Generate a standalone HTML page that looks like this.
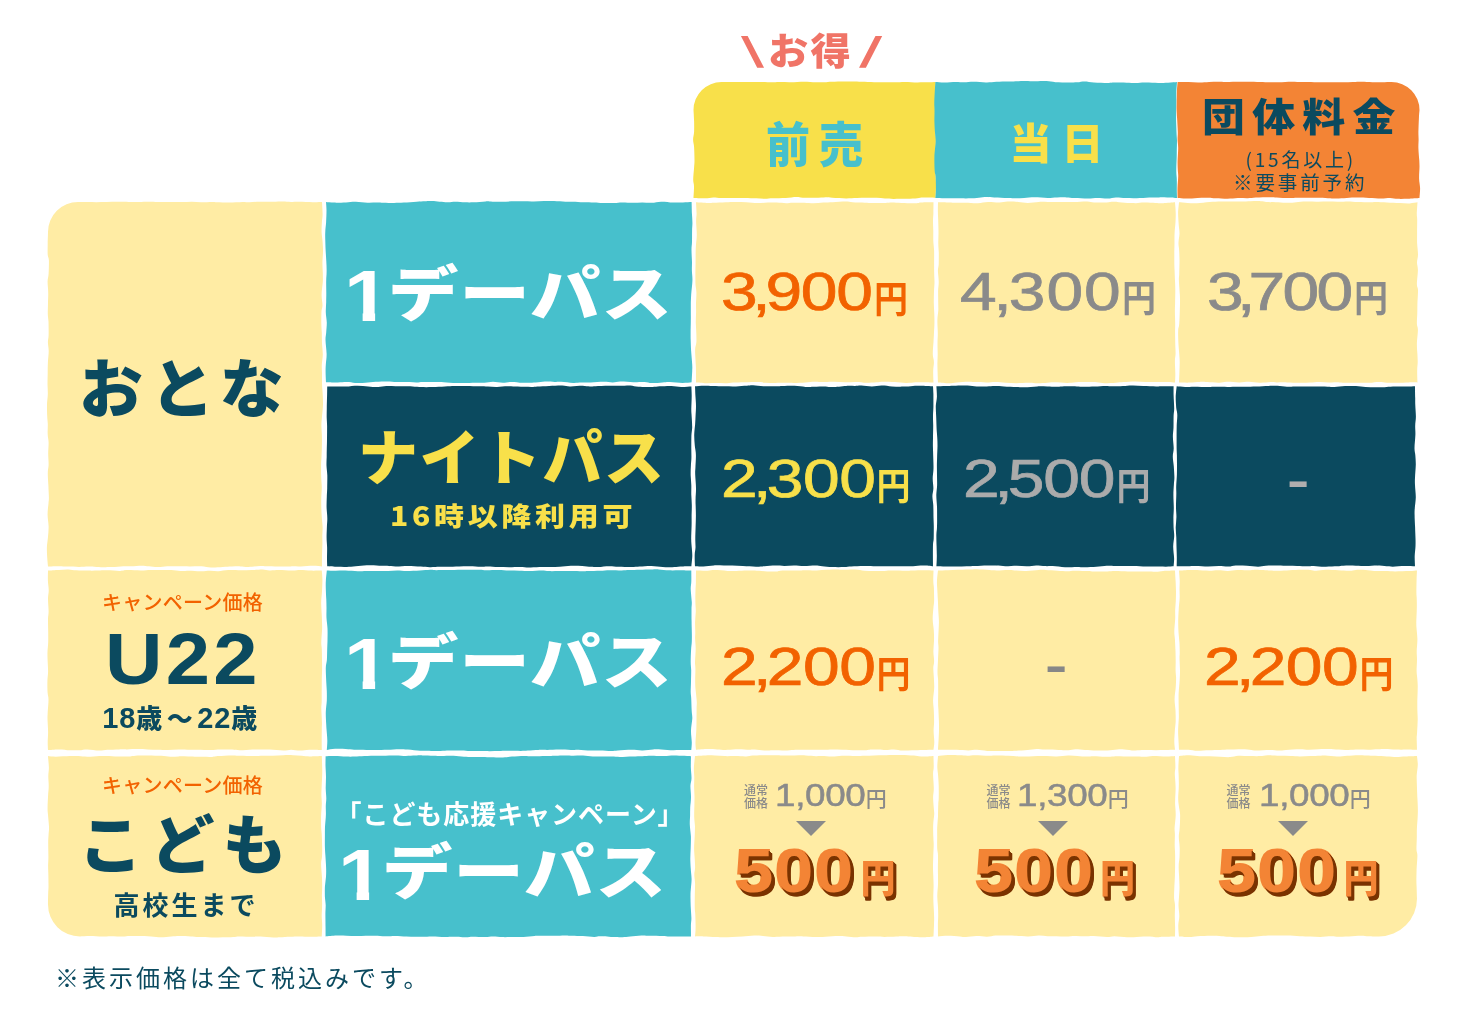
<!DOCTYPE html>
<html lang="ja">
<head>
<meta charset="utf-8">
<title>料金表</title>
<style>
html,body{margin:0;padding:0;background:#fff;}
body{width:1473px;height:1027px;position:relative;overflow:hidden;
  font-family:"Liberation Sans","Noto Sans CJK JP",sans-serif;}
#wrap{position:absolute;left:0;top:0;width:1473px;height:1027px;will-change:transform;}
.c{position:absolute;}
.py{background:#ffeca4;}
.tl{background:#47c0cc;}
.nv{background:#0b4a5f;}
.hy{background:#f8e04a;}
.ho{background:#f38435;}
.t{position:absolute;white-space:nowrap;line-height:1;margin:0;}
.jp{font-family:"Noto Sans CJK JP","Liberation Sans",sans-serif;}
.navy{color:#0b4a5f;}
.org{color:#f26200;}
.gry{color:#8a8a8a;}
.lgry{color:#ababab;}
.yel{color:#f8e04a;}
.wht{color:#fff;}
.num{display:inline-block;font-family:"Liberation Sans",sans-serif;transform-origin:0 50%;transform:scaleX(1.21);margin-right:0.52em;-webkit-text-stroke:0.7px currentColor;paint-order:stroke fill;letter-spacing:-1.0px;}
.cm{margin:0 -3.4px;}
.yen{display:inline-block;font-family:"Noto Sans CJK JP",sans-serif;font-weight:700;transform:scaleY(1.09);transform-origin:50% 100%;position:relative;top:2.5px;}

.num2{display:inline-block;font-family:"Liberation Sans",sans-serif;transform-origin:0 50%;transform:scaleX(1.17);margin-right:0.43em;letter-spacing:-0.3px;-webkit-text-stroke:0.5px currentColor;paint-order:stroke fill;}
.big{color:#f38435;text-shadow:1px 1px 0 #7a3300,2px 2px 0 #7a3300,3px 3px 0 #7a3300,3px 4px 0 #7a3300,2px 4px 0 #7a3300;}
.n5{display:inline-block;font-family:"Liberation Sans",sans-serif;font-weight:700;font-size:61px;transform:scaleX(1.13);transform-origin:0 50%;margin-right:0.315em;-webkit-text-stroke:2.2px #f38435;paint-order:stroke fill;letter-spacing:1.5px;}
.y5{display:inline-block;font-family:"Noto Sans CJK JP",sans-serif;font-weight:900;font-size:35px;transform:scaleY(1.1);transform-origin:50% 100%;position:relative;top:-0.3px;}
.yen2{font-family:"Noto Sans CJK JP",sans-serif;font-weight:500;font-size:21px;}
.one{display:inline-block;font-family:"Liberation Sans",sans-serif;font-weight:700;font-size:73px;margin-right:3.4px;position:relative;top:3.3px;transform:scaleX(1.13);transform-origin:0 50%;clip-path:polygon(0 0,27.6px 0,27.6px 100%,16.5px 100%,16.5px 40px,0 40px);}
.kata{display:inline-block;transform:scale(1.1,0.945);transform-origin:0 50%;letter-spacing:0.9px;}
.d{font-family:"Liberation Sans",sans-serif;font-weight:700;font-size:29px;letter-spacing:0.9px;}
</style>
</head>
<body>
<div id="wrap">

<!-- CELLS -->
<svg class="cells" width="1473" height="1027" viewBox="0 0 1473 1027" style="position:absolute;left:0;top:0">
<path fill="#f8e04a" d="M721.5 82.0C723.2 82.0 727.7 82.0 731.5 82.0C735.2 82.0 740.6 82.0 744.1 82.0C747.5 82.0 749.4 82.1 752.1 82.1C754.9 82.1 757.2 82.0 760.7 82.0C764.2 82.1 769.8 82.3 773.1 82.3C776.5 82.2 777.7 82.0 780.6 82.0C783.5 82.0 786.9 82.3 790.8 82.2C794.7 82.2 799.9 81.7 804.0 81.7C808.2 81.7 812.4 82.2 815.7 82.3C819.1 82.3 821.5 82.3 824.2 82.2C826.9 82.1 828.6 81.8 831.9 81.7C835.2 81.6 840.6 81.5 844.0 81.5C847.4 81.5 849.5 81.5 852.5 81.6C855.4 81.6 858.2 81.7 861.8 81.8C865.4 81.9 870.3 82.1 874.1 82.2C877.9 82.2 881.3 82.2 884.7 82.2C888.2 82.2 891.5 82.3 894.8 82.2C898.2 82.2 901.0 81.9 904.8 81.9C908.6 81.9 914.0 82.3 917.7 82.4C921.5 82.4 924.2 82.4 927.1 82.3C930.1 82.3 934.2 82.1 935.6 82.0C935.7 83.5 935.9 87.7 936.0 90.8C936.2 93.8 936.5 96.7 936.5 100.3C936.5 103.9 936.2 108.6 936.2 112.3C936.1 116.0 936.2 119.0 936.0 122.3C935.9 125.7 935.3 130.0 935.2 132.5C935.2 135.1 935.8 134.4 935.9 137.6C936.0 140.8 935.8 147.6 935.8 151.6C935.8 155.7 935.9 159.1 935.8 161.7C935.8 164.2 935.5 163.9 935.5 166.9C935.5 170.0 935.8 176.8 935.9 180.0C936.0 183.2 936.1 183.3 936.0 186.3C936.0 189.3 935.7 196.1 935.6 198.0C933.5 197.9 926.2 197.6 923.2 197.6C920.1 197.6 920.0 198.0 917.4 198.2C914.7 198.4 911.3 198.7 907.3 198.8C903.4 198.9 897.5 198.9 893.8 198.9C890.0 198.8 887.7 198.7 884.9 198.5C882.0 198.3 879.6 198.0 876.6 197.8C873.6 197.7 870.1 197.7 866.8 197.7C863.5 197.7 860.3 197.9 856.8 198.0C853.4 198.1 850.3 198.4 846.3 198.4C842.2 198.3 835.8 197.9 832.3 197.7C828.9 197.5 828.3 197.2 825.6 197.2C822.9 197.3 819.8 197.8 816.0 197.8C812.2 197.9 805.9 197.8 802.7 197.7C799.4 197.6 799.2 197.0 796.4 197.1C793.6 197.1 789.7 197.8 785.7 198.0C781.8 198.2 776.3 198.1 772.8 198.3C769.4 198.4 767.9 198.8 765.1 198.8C762.4 198.8 759.4 198.4 756.1 198.2C752.8 198.1 748.8 198.0 745.2 197.9C741.6 197.9 738.5 198.0 734.5 198.0C730.5 198.1 725.0 198.1 721.4 198.0C717.9 197.9 716.0 197.4 713.3 197.4C710.6 197.5 708.5 198.2 705.2 198.3C701.9 198.4 695.4 198.0 693.5 198.0C693.6 196.0 694.1 189.3 694.0 186.2C694.0 183.2 693.2 182.8 693.2 179.7C693.2 176.5 693.9 170.7 694.1 167.5C694.3 164.3 694.5 163.7 694.5 160.4C694.5 157.0 694.3 150.7 694.1 147.2C693.9 143.8 693.1 142.3 693.1 139.7C693.1 137.1 693.9 134.9 694.1 131.8C694.2 128.7 694.2 124.7 694.1 121.1C694.0 117.4 693.6 111.8 693.5 110.0A28 28 0 0 1 721.5 82.0Z"/>
<path fill="#47c0cc" d="M935.4 82.0C936.9 82.1 940.8 82.5 944.2 82.5C947.7 82.5 952.7 81.9 956.0 81.9C959.3 81.9 961.1 82.3 964.0 82.3C966.9 82.3 969.8 81.7 973.5 81.7C977.2 81.7 982.2 82.4 986.0 82.4C989.8 82.5 992.7 82.0 996.4 81.8C1000.0 81.7 1005.1 81.5 1008.0 81.5C1010.8 81.4 1010.5 81.5 1013.5 81.4C1016.5 81.3 1022.2 81.0 1025.7 81.0C1029.2 81.0 1031.0 81.3 1034.4 81.3C1037.9 81.4 1043.0 81.0 1046.5 81.1C1050.0 81.3 1051.8 82.0 1055.5 82.2C1059.2 82.4 1065.1 82.3 1068.7 82.4C1072.3 82.4 1074.6 82.5 1077.3 82.3C1079.9 82.1 1081.8 81.4 1084.6 81.4C1087.4 81.4 1090.2 82.1 1094.0 82.4C1097.9 82.6 1104.2 82.9 1107.5 82.9C1110.9 83.0 1111.0 82.7 1114.2 82.6C1117.4 82.6 1123.0 82.6 1126.6 82.7C1130.2 82.7 1132.8 83.1 1135.8 83.1C1138.8 83.1 1141.0 82.6 1144.7 82.6C1148.4 82.5 1154.1 82.9 1158.1 82.9C1162.0 82.9 1165.0 82.9 1168.1 82.7C1171.3 82.6 1175.5 82.1 1177.0 82.0C1176.9 83.8 1176.4 90.0 1176.3 93.1C1176.2 96.2 1176.4 97.3 1176.4 100.6C1176.4 103.9 1176.2 109.7 1176.1 112.9C1176.1 116.2 1176.1 117.1 1176.1 120.3C1176.2 123.5 1176.4 128.7 1176.5 132.1C1176.6 135.5 1176.9 137.6 1177.0 140.6C1177.0 143.6 1176.9 147.3 1176.8 150.1C1176.8 152.8 1176.8 153.8 1176.7 157.3C1176.6 160.9 1176.2 167.6 1176.3 171.4C1176.3 175.1 1176.8 176.8 1176.8 179.8C1176.9 182.8 1176.8 186.4 1176.8 189.5C1176.8 192.5 1177.0 196.6 1177.0 198.0C1175.4 197.9 1170.2 197.6 1167.2 197.5C1164.2 197.4 1162.0 197.3 1159.0 197.4C1156.0 197.4 1152.9 197.4 1149.2 197.5C1145.5 197.7 1140.7 198.1 1136.8 198.2C1132.9 198.3 1129.1 198.2 1125.7 198.1C1122.2 198.0 1119.0 197.3 1116.0 197.4C1113.0 197.4 1110.9 198.4 1107.8 198.5C1104.7 198.6 1100.8 197.9 1097.5 197.9C1094.2 197.9 1091.8 198.5 1087.9 198.5C1084.0 198.5 1077.8 198.2 1074.3 198.0C1070.7 197.8 1069.4 197.4 1066.6 197.4C1063.7 197.3 1060.2 197.4 1057.1 197.4C1053.9 197.5 1051.4 197.9 1047.7 197.9C1043.9 197.8 1038.5 197.3 1034.5 197.3C1030.6 197.3 1027.3 197.7 1024.1 197.9C1020.9 198.0 1018.2 198.2 1015.5 198.2C1012.8 198.3 1011.3 198.2 1007.7 198.1C1004.1 198.0 997.9 197.7 994.1 197.5C990.3 197.3 987.6 196.9 984.7 197.1C981.8 197.2 979.9 197.9 976.8 198.1C973.7 198.3 969.2 198.4 965.8 198.4C962.5 198.4 960.5 198.4 957.0 198.3C953.5 198.3 948.4 198.2 944.8 198.2C941.2 198.1 937.0 198.0 935.4 198.0C935.5 196.5 935.9 192.8 935.9 189.2C936.0 185.6 935.8 179.4 935.6 176.3C935.4 173.3 934.9 174.2 934.7 171.1C934.5 167.9 934.3 161.3 934.4 157.5C934.4 153.8 934.8 151.4 935.0 148.7C935.3 145.9 935.7 143.6 935.7 140.9C935.7 138.3 935.2 136.0 935.0 132.7C934.7 129.3 934.5 124.8 934.4 120.9C934.4 117.0 934.6 112.4 934.5 109.4C934.5 106.4 934.2 106.1 934.3 103.1C934.3 100.0 934.6 94.6 934.8 91.0C935.0 87.5 935.3 83.5 935.4 82.0Z"/>
<path fill="#f38435" d="M1177.6 82.0C1179.4 82.0 1184.8 82.1 1188.4 82.1C1192.1 82.2 1196.1 82.5 1199.5 82.4C1203.0 82.4 1206.0 82.1 1209.1 81.9C1212.2 81.8 1215.4 81.7 1218.2 81.7C1221.0 81.7 1222.4 81.9 1226.0 81.9C1229.6 81.8 1236.2 81.7 1239.8 81.7C1243.4 81.7 1244.4 81.7 1247.7 81.7C1251.1 81.8 1256.4 81.8 1260.1 81.9C1263.8 82.0 1266.7 82.1 1269.9 82.2C1273.0 82.2 1275.3 82.4 1278.9 82.3C1282.6 82.2 1287.9 81.8 1291.7 81.8C1295.6 81.8 1299.3 82.1 1302.0 82.1C1304.8 82.1 1305.0 82.0 1308.1 82.0C1311.3 82.0 1317.2 82.3 1320.8 82.3C1324.4 82.4 1326.1 82.2 1329.8 82.2C1333.4 82.2 1338.6 82.3 1342.5 82.3C1346.4 82.3 1349.8 82.2 1353.0 82.1C1356.2 82.0 1358.5 81.8 1361.7 81.8C1364.9 81.8 1368.9 82.1 1372.3 82.2C1375.6 82.2 1378.8 82.3 1382.0 82.3C1385.2 82.2 1389.9 82.0 1391.5 82.0A28 28 0 0 1 1419.5 110.0C1419.4 111.4 1419.0 114.7 1418.9 118.4C1418.7 122.0 1418.5 128.4 1418.4 131.9C1418.4 135.4 1418.6 136.8 1418.6 139.5C1418.6 142.2 1418.3 144.7 1418.4 148.2C1418.5 151.8 1419.1 157.6 1419.3 160.6C1419.4 163.7 1419.5 163.6 1419.5 166.6C1419.5 169.6 1419.0 175.1 1419.1 178.7C1419.2 182.3 1420.0 184.9 1420.1 188.2C1420.1 191.4 1419.6 196.4 1419.5 198.0C1417.6 198.1 1411.5 198.6 1407.9 198.7C1404.3 198.8 1400.8 199.0 1397.8 198.8C1394.9 198.7 1392.9 198.0 1390.1 197.9C1387.3 197.9 1384.5 198.5 1381.0 198.5C1377.5 198.5 1373.0 198.0 1369.0 197.9C1365.1 197.7 1361.0 197.6 1357.3 197.6C1353.6 197.6 1350.2 197.7 1346.7 197.9C1343.2 198.0 1339.4 198.5 1336.6 198.6C1333.9 198.7 1333.0 198.4 1330.2 198.2C1327.4 198.1 1323.5 197.8 1319.8 197.7C1316.1 197.7 1311.8 197.8 1307.9 197.8C1304.1 197.9 1299.9 197.8 1296.8 197.8C1293.7 197.9 1292.8 198.2 1289.4 198.1C1286.1 198.0 1279.9 197.6 1276.7 197.4C1273.4 197.3 1273.2 197.1 1269.8 197.2C1266.3 197.2 1259.5 197.4 1255.9 197.6C1252.2 197.8 1250.8 198.2 1247.8 198.3C1244.8 198.4 1241.3 198.0 1237.9 198.1C1234.5 198.2 1231.2 198.8 1227.5 198.8C1223.7 198.8 1218.7 198.5 1215.6 198.3C1212.4 198.1 1211.4 197.8 1208.3 197.7C1205.3 197.6 1201.0 197.7 1197.4 197.9C1193.8 198.0 1190.0 198.6 1186.7 198.6C1183.4 198.7 1179.1 198.1 1177.6 198.0C1177.6 196.4 1177.4 191.7 1177.5 188.1C1177.6 184.6 1178.2 179.5 1178.2 176.5C1178.3 173.5 1177.9 172.7 1177.8 170.1C1177.7 167.6 1177.5 164.8 1177.6 161.1C1177.7 157.5 1178.2 151.6 1178.2 148.1C1178.2 144.6 1177.7 142.8 1177.6 140.1C1177.5 137.4 1177.9 135.4 1177.8 131.8C1177.7 128.2 1177.3 122.3 1177.1 118.6C1176.9 114.9 1176.7 112.3 1176.6 109.7C1176.5 107.0 1176.7 106.0 1176.7 102.8C1176.8 99.7 1176.8 94.2 1176.9 90.8C1177.1 87.3 1177.5 83.5 1177.6 82.0Z"/>
<path fill="#ffeca4" d="M78.0 202.0C79.6 202.0 84.4 202.1 87.4 202.1C90.5 202.1 93.1 202.2 96.3 202.2C99.5 202.2 103.1 202.2 106.6 202.1C110.1 202.0 113.7 201.8 117.4 201.8C121.1 201.8 125.5 201.9 129.0 201.9C132.5 201.9 135.0 201.9 138.4 201.9C141.8 201.8 146.1 201.7 149.3 201.7C152.6 201.7 154.3 201.9 157.8 202.0C161.3 202.0 166.3 202.0 170.2 202.0C174.1 202.0 177.9 202.1 181.5 202.1C185.0 202.1 188.4 201.8 191.6 201.8C194.9 201.8 197.8 202.2 201.2 202.2C204.7 202.2 209.2 201.9 212.2 201.9C215.2 202.0 216.6 202.2 219.4 202.3C222.2 202.4 225.2 202.6 229.1 202.5C232.9 202.5 239.2 202.0 242.6 201.9C246.0 201.9 246.7 202.2 249.5 202.2C252.4 202.1 255.9 201.8 259.8 201.7C263.7 201.7 269.0 201.8 272.9 201.8C276.7 201.8 279.8 201.6 282.8 201.6C285.8 201.6 288.3 202.0 291.0 202.0C293.7 202.0 295.6 201.7 299.2 201.8C302.8 201.8 309.0 202.2 312.8 202.2C316.6 202.3 320.5 202.0 322.0 202.0C322.1 204.1 322.6 211.1 322.6 214.5C322.6 217.9 322.0 219.3 321.9 222.3C321.7 225.3 321.5 229.3 321.6 232.4C321.8 235.5 322.3 237.9 322.5 240.9C322.7 244.0 323.0 247.0 323.0 250.6C323.0 254.3 322.5 259.2 322.4 263.0C322.4 266.8 322.7 270.2 322.8 273.2C322.8 276.3 323.0 277.8 322.8 281.4C322.6 285.0 321.6 290.8 321.6 294.8C321.5 298.8 322.5 302.7 322.5 305.4C322.4 308.1 321.7 308.2 321.5 311.2C321.3 314.1 321.3 319.7 321.3 323.3C321.4 326.9 321.6 329.3 321.8 332.7C321.9 336.2 321.8 340.2 322.0 343.8C322.2 347.4 322.8 350.9 322.8 354.4C322.7 357.9 321.9 362.0 321.8 365.0C321.7 368.0 321.9 369.1 322.0 372.5C322.0 375.9 322.0 382.1 322.1 385.5C322.2 388.8 322.5 389.6 322.6 392.8C322.8 396.0 323.1 400.6 323.0 404.6C322.9 408.5 322.3 413.1 322.0 416.6C321.7 420.2 321.4 422.6 321.4 425.8C321.4 428.9 321.8 432.2 321.9 435.5C322.0 438.8 322.0 441.8 321.9 445.5C321.9 449.2 321.6 454.5 321.5 457.6C321.3 460.7 321.2 460.9 321.1 464.0C321.1 467.2 321.0 472.8 321.2 476.6C321.3 480.5 321.7 483.6 321.8 487.1C321.8 490.6 321.4 494.4 321.3 497.6C321.2 500.9 321.2 503.5 321.3 506.7C321.3 510.0 321.6 513.8 321.8 517.2C322.0 520.6 322.5 524.1 322.6 527.1C322.7 530.1 322.4 532.5 322.3 535.3C322.3 538.1 322.4 540.1 322.4 543.8C322.3 547.4 322.0 553.3 322.0 557.1C321.9 560.9 322.0 564.9 322.0 566.5C320.5 566.4 316.7 565.8 313.2 565.8C309.7 565.8 304.6 566.3 300.9 566.4C297.1 566.5 294.0 566.3 290.7 566.4C287.5 566.4 284.9 566.6 281.2 566.6C277.6 566.6 272.2 566.4 268.7 566.3C265.2 566.2 263.5 565.9 260.1 566.0C256.7 566.1 251.8 567.0 248.5 567.0C245.2 567.1 243.0 566.4 240.2 566.4C237.5 566.3 234.8 566.5 231.9 566.6C229.0 566.7 226.3 566.9 222.8 567.0C219.3 567.2 214.6 567.5 211.0 567.4C207.4 567.3 205.0 566.4 201.5 566.2C198.0 566.1 193.8 566.4 189.8 566.4C185.8 566.4 181.3 566.4 177.6 566.3C173.8 566.3 170.5 566.1 167.3 566.2C164.0 566.3 161.1 567.0 158.1 567.0C155.0 567.1 151.7 566.5 149.0 566.3C146.3 566.1 144.7 565.8 141.6 565.7C138.6 565.7 134.4 566.1 130.9 566.2C127.4 566.3 124.5 566.2 120.7 566.4C117.0 566.5 112.4 567.1 108.3 567.1C104.3 567.2 99.8 567.0 96.5 566.9C93.2 566.8 91.3 566.5 88.5 566.5C85.6 566.5 82.6 566.9 79.1 566.9C75.6 566.9 70.8 566.7 67.5 566.6C64.2 566.5 62.5 566.2 59.2 566.2C56.0 566.2 49.9 566.4 48.0 566.5C47.9 565.0 47.4 560.6 47.2 557.4C47.0 554.2 46.8 550.8 46.9 547.5C47.0 544.3 47.6 541.3 47.9 537.8C48.2 534.3 48.7 530.4 48.6 526.5C48.5 522.6 47.6 518.4 47.6 514.6C47.5 510.7 48.3 506.0 48.5 503.2C48.7 500.4 48.9 500.6 48.9 497.7C48.9 494.8 48.5 489.9 48.4 485.8C48.2 481.6 47.7 476.3 47.8 472.9C47.8 469.4 48.5 468.2 48.6 465.0C48.7 461.9 48.2 457.6 48.2 453.9C48.2 450.1 48.7 445.7 48.6 442.4C48.5 439.2 47.8 437.3 47.7 434.2C47.5 431.1 47.9 427.0 47.8 424.0C47.7 420.9 47.3 419.3 47.2 416.0C47.1 412.7 46.9 407.8 47.0 404.2C47.1 400.6 47.7 397.8 47.8 394.5C47.9 391.2 47.6 387.8 47.5 384.3C47.5 380.8 47.6 377.1 47.7 373.5C47.7 369.8 47.7 366.1 47.9 362.4C48.1 358.6 48.7 354.5 48.7 351.1C48.7 347.8 47.9 344.9 47.9 342.3C47.9 339.7 48.5 338.7 48.6 335.3C48.7 331.9 48.6 325.4 48.5 321.8C48.3 318.2 47.9 317.1 47.8 313.8C47.8 310.5 48.0 305.6 48.0 302.0C48.1 298.4 48.3 295.8 48.2 292.4C48.2 288.9 47.5 284.5 47.6 281.4C47.7 278.3 48.4 277.3 48.6 273.8C48.8 270.3 49.0 263.5 48.9 260.3C48.7 257.1 47.9 257.4 47.7 254.6C47.5 251.8 47.7 247.1 47.7 243.3C47.8 239.5 48.0 233.9 48.0 232.0A30 30 0 0 1 78.0 202.0Z"/>
<path fill="#ffeca4" d="M48.0 570.5C49.8 570.4 55.4 570.0 58.8 569.9C62.2 569.7 65.6 569.4 68.5 569.5C71.4 569.6 72.9 570.2 76.3 570.3C79.7 570.5 85.2 570.6 88.8 570.6C92.4 570.7 95.0 570.6 98.1 570.5C101.2 570.5 103.7 570.2 107.4 570.3C111.1 570.3 117.0 571.0 120.2 570.9C123.5 570.9 123.5 570.2 127.0 570.1C130.4 570.0 136.9 570.5 140.8 570.5C144.8 570.5 147.7 570.1 150.8 570.0C153.8 569.9 155.7 569.9 159.2 569.9C162.6 569.9 167.7 569.8 171.3 570.0C174.8 570.2 177.6 570.9 180.6 571.1C183.6 571.2 185.6 570.8 189.1 570.8C192.5 570.9 197.9 571.4 201.4 571.3C204.8 571.3 207.1 570.7 209.9 570.7C212.7 570.6 215.3 571.3 218.3 571.2C221.4 571.1 224.6 570.3 228.4 570.1C232.2 570.0 237.1 570.3 241.0 570.3C244.9 570.3 248.2 570.2 251.8 570.1C255.3 570.0 259.4 569.6 262.4 569.6C265.3 569.7 266.8 570.3 269.6 570.4C272.4 570.5 275.3 570.1 279.1 570.1C282.9 570.2 289.0 570.7 292.5 570.6C296.1 570.6 297.3 570.0 300.4 570.0C303.5 570.0 307.4 570.5 310.9 570.6C314.5 570.7 320.0 570.5 321.8 570.5C321.9 572.1 322.4 576.3 322.4 579.8C322.4 583.3 322.2 587.7 322.0 591.5C321.8 595.3 321.2 599.0 321.2 602.5C321.1 606.0 321.5 609.2 321.6 612.5C321.8 615.7 322.0 619.0 322.0 621.9C322.1 624.7 322.2 626.0 322.1 629.4C321.9 632.9 321.3 639.2 321.3 642.5C321.2 645.7 321.7 646.2 321.8 649.0C321.9 651.9 322.0 656.1 322.0 659.6C322.1 663.0 322.1 666.5 322.1 669.7C322.0 672.9 321.9 675.0 321.8 678.7C321.8 682.3 321.8 687.8 321.7 691.6C321.7 695.5 321.7 699.0 321.7 701.8C321.6 704.6 321.3 705.1 321.3 708.5C321.4 711.9 321.9 718.8 321.9 722.0C322.0 725.2 321.9 724.6 321.8 727.7C321.8 730.7 321.7 736.5 321.7 740.2C321.7 744.0 321.8 748.4 321.8 750.0C319.7 750.0 312.9 749.7 309.3 749.8C305.7 749.9 303.0 750.6 300.0 750.6C296.9 750.6 293.9 749.8 291.1 749.8C288.4 749.8 286.9 750.6 283.3 750.6C279.8 750.6 273.3 749.8 269.9 749.6C266.5 749.5 265.9 749.6 263.1 749.6C260.2 749.6 256.5 749.3 252.6 749.4C248.8 749.5 243.4 750.1 239.9 750.2C236.5 750.2 235.2 749.8 232.0 749.6C228.7 749.5 223.8 749.4 220.3 749.4C216.8 749.5 214.5 749.9 210.8 750.0C207.0 750.0 201.2 749.8 197.7 749.7C194.3 749.7 193.2 749.8 190.0 749.8C186.8 749.8 182.4 749.6 178.7 749.6C175.0 749.6 171.1 749.9 167.6 750.0C164.1 750.0 161.2 749.8 157.9 749.7C154.6 749.6 151.0 749.5 147.6 749.4C144.2 749.3 141.0 749.1 137.6 749.1C134.1 749.1 129.9 749.3 126.8 749.4C123.7 749.4 122.1 749.3 118.9 749.4C115.6 749.5 110.6 749.7 107.3 749.8C104.0 750.0 102.4 750.6 99.1 750.5C95.8 750.4 90.7 749.5 87.3 749.4C84.0 749.4 82.0 750.1 79.1 750.3C76.1 750.4 73.1 750.4 69.8 750.2C66.5 750.1 62.8 749.4 59.2 749.4C55.6 749.3 49.9 749.9 48.0 750.0C47.9 748.7 47.7 745.2 47.7 742.2C47.7 739.2 48.1 735.9 48.1 732.0C48.1 728.1 47.6 722.0 47.5 718.7C47.5 715.4 47.6 715.5 47.7 712.3C47.9 709.1 48.5 703.0 48.5 699.7C48.5 696.4 47.8 695.5 47.6 692.5C47.4 689.5 47.3 685.3 47.4 681.8C47.4 678.3 48.0 675.2 48.1 671.5C48.1 667.9 47.7 663.1 47.6 659.8C47.5 656.5 47.4 654.8 47.5 651.8C47.6 648.9 48.1 645.4 48.2 641.9C48.3 638.5 48.2 635.1 48.2 631.3C48.1 627.4 48.0 622.1 48.0 618.8C48.1 615.5 48.6 615.0 48.6 611.6C48.6 608.2 48.0 601.9 48.0 598.4C48.1 594.8 48.8 593.2 48.7 590.2C48.7 587.2 48.0 583.8 47.9 580.6C47.8 577.3 48.0 572.2 48.0 570.5Z"/>
<path fill="#ffeca4" d="M48.0 756.0C49.3 756.1 52.2 756.7 55.9 756.7C59.5 756.7 66.0 756.2 69.8 756.1C73.6 756.0 75.6 756.0 78.6 756.1C81.5 756.2 83.9 756.8 87.4 756.8C90.9 756.8 96.3 756.1 99.5 756.0C102.7 755.8 103.2 755.9 106.4 755.9C109.5 756.0 114.4 756.4 118.3 756.4C122.3 756.5 127.0 756.5 130.2 756.4C133.4 756.2 134.5 755.8 137.5 755.6C140.6 755.5 144.5 755.4 148.5 755.4C152.5 755.5 157.8 755.6 161.4 755.8C165.1 756.0 167.5 756.6 170.4 756.7C173.3 756.8 175.7 756.4 178.6 756.4C181.6 756.3 185.0 756.5 188.2 756.6C191.4 756.7 193.6 756.7 197.6 756.8C201.6 756.8 208.6 757.0 212.0 756.9C215.5 756.7 215.0 756.3 218.3 756.0C221.5 755.8 227.9 755.4 231.6 755.4C235.3 755.3 237.0 755.6 240.6 755.7C244.2 755.8 249.4 756.0 253.1 756.0C256.8 756.0 259.5 755.7 262.8 755.7C266.0 755.6 269.1 755.8 272.6 755.7C276.0 755.6 279.9 755.3 283.4 755.2C286.8 755.1 290.0 755.1 293.0 755.2C296.1 755.3 298.9 755.5 301.7 755.7C304.6 755.9 306.6 756.3 309.9 756.4C313.3 756.4 319.8 756.1 321.8 756.0C321.9 757.5 322.0 762.1 322.1 765.1C322.2 768.1 322.3 770.5 322.2 773.9C322.2 777.4 321.8 782.3 321.7 785.9C321.5 789.5 321.4 792.4 321.4 795.4C321.5 798.4 321.9 800.7 321.8 804.2C321.7 807.6 321.2 812.0 321.1 816.0C321.0 819.9 321.1 824.9 321.2 827.8C321.3 830.8 321.6 830.5 321.7 833.8C321.9 837.0 322.1 843.5 322.2 847.3C322.2 851.1 322.2 853.8 322.0 856.6C321.9 859.4 321.1 860.3 321.1 863.9C321.1 867.4 321.8 874.0 322.0 877.8C322.1 881.7 322.2 884.0 322.2 886.9C322.2 889.9 321.9 892.7 321.9 895.8C321.9 898.8 322.2 902.0 322.1 905.4C322.1 908.8 321.7 912.6 321.7 915.9C321.7 919.2 322.2 921.8 322.2 925.3C322.2 928.7 321.9 934.6 321.8 936.5C319.9 936.5 314.3 936.8 310.6 936.8C306.8 936.8 302.8 936.5 299.4 936.5C296.1 936.5 293.7 936.7 290.4 936.8C287.2 936.9 282.7 937.2 279.9 937.3C277.0 937.4 276.5 937.6 273.2 937.5C270.0 937.4 263.8 936.7 260.5 936.6C257.1 936.5 256.4 936.7 252.9 936.7C249.4 936.7 242.8 936.4 239.5 936.4C236.2 936.5 236.0 936.8 233.2 936.9C230.4 937.1 226.4 937.2 222.8 937.3C219.2 937.4 215.4 937.6 211.4 937.5C207.4 937.5 202.2 937.3 198.8 937.1C195.3 936.9 194.0 936.7 190.8 936.5C187.5 936.3 182.7 936.0 179.4 936.0C176.2 936.0 174.3 936.3 171.2 936.5C168.2 936.8 164.4 937.3 161.0 937.3C157.7 937.3 154.9 936.7 151.0 936.5C147.2 936.3 141.6 936.1 138.0 936.1C134.4 936.0 132.1 936.0 129.6 936.1C127.0 936.2 125.8 936.6 122.7 936.6C119.6 936.6 114.5 936.3 111.0 936.3C107.6 936.3 105.6 936.6 102.1 936.6C98.6 936.6 93.7 936.1 90.0 936.1C86.3 936.1 81.7 936.4 80.0 936.5A32 32 0 0 1 48.0 904.5C48.0 902.6 48.1 896.0 48.2 893.0C48.3 890.0 48.5 889.8 48.5 886.4C48.5 883.0 48.4 876.3 48.3 872.8C48.2 869.3 48.1 868.3 48.1 865.6C48.2 863.0 48.4 860.6 48.4 856.8C48.4 853.0 48.2 846.5 48.2 842.7C48.2 838.9 48.5 836.8 48.6 834.1C48.8 831.5 49.1 830.0 49.0 826.8C48.9 823.6 48.2 818.0 48.0 814.8C47.7 811.6 47.5 810.8 47.6 807.6C47.6 804.3 47.9 798.7 48.1 795.2C48.3 791.7 48.7 789.7 48.7 786.5C48.8 783.4 48.3 779.6 48.3 776.5C48.3 773.4 48.9 771.2 48.9 767.8C48.8 764.3 48.1 758.0 48.0 756.0Z"/>
<path fill="#47c0cc" d="M326.0 202.0C327.3 202.1 330.8 202.6 334.1 202.6C337.4 202.7 342.3 202.5 346.0 202.4C349.6 202.2 352.3 201.7 355.9 201.8C359.5 201.8 364.0 202.6 367.5 202.7C371.1 202.8 374.3 202.5 377.0 202.5C379.6 202.5 380.6 202.7 383.4 202.7C386.3 202.8 390.7 203.0 394.1 203.0C397.5 202.9 400.0 202.8 403.8 202.6C407.5 202.3 413.0 202.0 416.6 201.7C420.1 201.5 422.4 201.3 425.0 201.2C427.7 201.1 428.7 200.9 432.4 201.1C436.0 201.3 443.2 202.2 447.0 202.3C450.8 202.4 452.2 201.8 455.2 201.8C458.3 201.8 462.1 202.2 465.2 202.3C468.2 202.4 470.2 202.4 473.6 202.3C477.0 202.1 482.5 201.5 485.6 201.4C488.7 201.2 489.7 201.6 492.5 201.7C495.2 201.7 498.5 201.7 502.1 201.7C505.7 201.6 510.5 201.4 514.1 201.3C517.7 201.3 520.4 201.3 523.7 201.3C527.0 201.3 530.4 201.5 533.8 201.4C537.2 201.4 540.7 201.1 544.1 201.0C547.5 200.9 550.6 200.9 554.1 201.0C557.7 201.1 562.3 201.6 565.4 201.7C568.5 201.8 569.9 201.6 572.9 201.7C575.9 201.8 580.0 202.1 583.5 202.2C587.1 202.3 590.9 202.3 594.1 202.5C597.2 202.6 599.2 202.9 602.6 203.0C606.0 203.1 611.0 203.1 614.2 203.0C617.5 202.9 618.9 202.4 622.0 202.4C625.1 202.3 629.2 202.8 632.6 202.8C636.0 202.8 639.1 202.4 642.3 202.4C645.5 202.4 648.6 203.0 651.7 202.8C654.9 202.7 657.5 201.7 661.1 201.7C664.6 201.6 669.3 202.4 673.0 202.5C676.6 202.6 679.8 202.5 682.9 202.4C686.0 202.3 690.1 202.1 691.6 202.0C691.7 203.9 691.8 209.9 691.9 213.3C692.1 216.7 692.4 219.7 692.4 222.5C692.5 225.3 692.1 226.9 692.1 230.2C692.0 233.4 692.1 238.8 692.0 242.1C691.9 245.4 691.5 246.5 691.5 249.8C691.5 253.2 691.9 258.7 692.0 262.2C692.0 265.8 691.8 268.1 691.9 271.1C692.0 274.2 692.6 277.0 692.4 280.8C692.3 284.7 691.5 290.5 691.2 294.2C691.0 297.9 690.9 300.1 690.8 303.0C690.8 305.9 690.8 308.8 690.8 311.8C690.8 314.8 690.9 317.3 690.8 320.8C690.8 324.3 690.6 329.3 690.6 332.6C690.6 335.8 690.6 337.3 690.7 340.2C690.8 343.2 690.9 346.3 691.1 350.4C691.4 354.4 692.0 361.1 692.2 364.5C692.4 368.0 692.3 368.0 692.2 371.0C692.1 374.0 691.7 380.4 691.6 382.3C690.1 382.4 686.2 383.0 682.6 383.0C679.0 383.0 673.2 382.2 669.9 382.1C666.5 382.0 665.5 382.3 662.5 382.4C659.4 382.6 654.6 383.2 651.7 383.1C648.7 383.0 647.6 382.2 644.5 382.0C641.4 381.9 637.3 382.3 633.3 382.2C629.2 382.1 623.7 381.4 620.3 381.5C616.9 381.5 615.5 382.4 612.7 382.4C609.9 382.4 607.3 381.7 603.7 381.7C600.0 381.7 594.6 382.3 590.8 382.5C587.1 382.7 584.2 382.5 581.2 382.6C578.3 382.7 576.5 383.1 573.2 383.0C569.8 382.8 564.3 382.0 561.3 381.8C558.2 381.6 557.5 381.9 554.7 381.9C552.0 381.8 548.1 381.4 544.9 381.5C541.7 381.6 539.5 382.4 535.7 382.6C532.0 382.8 526.5 382.8 522.5 382.7C518.5 382.6 515.0 381.9 511.8 381.9C508.5 381.9 505.9 382.7 502.8 382.7C499.7 382.7 496.1 381.8 493.0 381.8C489.9 381.8 487.3 382.6 484.4 382.7C481.5 382.9 479.1 382.8 475.6 382.8C472.1 382.9 466.6 383.0 463.3 383.0C460.0 383.1 459.3 383.2 456.0 383.0C452.8 382.9 447.2 382.3 443.8 382.2C440.3 382.0 438.8 382.0 435.3 382.0C431.8 382.0 426.1 381.9 422.9 382.0C419.7 382.1 419.6 382.5 416.3 382.5C412.9 382.5 406.3 382.2 402.9 382.1C399.6 382.0 398.9 382.1 396.3 382.0C393.7 381.9 390.7 381.4 387.3 381.4C383.9 381.4 379.4 381.6 375.7 381.8C372.0 382.1 368.8 382.7 365.4 382.8C361.9 383.0 358.2 383.0 355.2 382.9C352.1 382.8 349.9 382.1 347.0 382.1C344.1 382.0 341.4 382.5 337.9 382.5C334.4 382.6 328.0 382.3 326.0 382.3C325.9 380.4 325.6 374.2 325.6 371.0C325.6 367.8 325.7 366.2 325.9 363.4C326.1 360.5 326.7 357.8 326.6 353.8C326.5 349.9 325.6 343.4 325.5 339.8C325.5 336.2 326.0 335.2 326.2 332.4C326.4 329.6 326.8 326.1 326.8 322.8C326.7 319.4 325.9 315.7 325.8 312.2C325.7 308.7 326.1 305.1 326.2 301.9C326.2 298.7 326.3 296.4 326.3 292.9C326.3 289.3 326.1 284.2 326.2 280.7C326.2 277.3 326.6 275.3 326.6 272.1C326.7 268.8 326.5 264.9 326.3 261.2C326.1 257.5 325.8 253.2 325.6 249.8C325.5 246.4 325.4 243.7 325.3 240.7C325.2 237.6 325.1 234.6 325.3 231.5C325.4 228.5 325.9 225.8 326.1 222.3C326.3 218.8 326.5 214.0 326.5 210.6C326.5 207.2 326.1 203.4 326.0 202.0Z"/>
<path fill="#0b4a5f" d="M327.2 386.4C328.7 386.4 332.8 386.4 336.0 386.4C339.1 386.4 342.4 386.6 346.0 386.5C349.6 386.4 353.9 385.7 357.5 385.7C361.2 385.7 364.7 386.2 368.2 386.4C371.6 386.7 375.1 387.1 378.2 387.0C381.2 387.0 383.4 386.2 386.3 386.1C389.2 386.0 392.0 386.2 395.6 386.3C399.2 386.3 404.2 386.2 407.8 386.2C411.4 386.3 414.0 386.6 417.1 386.8C420.1 387.0 422.6 387.2 426.2 387.2C429.8 387.2 434.9 387.0 438.8 386.8C442.8 386.7 447.1 386.3 450.1 386.2C453.1 386.0 454.2 386.0 456.9 386.0C459.7 386.0 462.7 385.9 466.5 385.9C470.3 386.0 476.0 386.1 479.6 386.2C483.1 386.3 485.0 386.3 487.9 386.5C490.8 386.6 493.8 387.0 497.1 386.9C500.4 386.9 504.2 386.3 507.6 386.3C511.1 386.2 513.8 386.5 517.7 386.6C521.6 386.8 527.9 387.0 531.2 387.0C534.5 386.9 534.5 386.7 537.4 386.5C540.4 386.4 544.9 386.2 549.1 386.0C553.2 385.8 558.8 385.4 562.3 385.5C565.7 385.6 566.6 386.3 569.9 386.4C573.3 386.5 579.2 385.8 582.6 385.8C585.9 385.9 587.4 386.5 590.0 386.5C592.6 386.6 594.3 386.2 598.0 386.0C601.8 385.9 608.8 385.7 612.4 385.7C616.1 385.6 617.1 385.8 620.0 385.7C623.0 385.7 627.2 385.3 630.3 385.4C633.4 385.6 634.8 386.5 638.5 386.8C642.1 387.0 648.7 387.0 652.3 386.9C655.8 386.8 656.5 386.4 659.7 386.2C662.9 386.1 667.9 385.8 671.4 385.9C675.0 386.0 677.8 386.8 681.1 386.9C684.4 387.0 689.7 386.5 691.4 386.4C691.4 388.0 691.7 392.0 691.7 395.7C691.7 399.4 691.4 405.7 691.3 408.8C691.3 411.9 691.4 411.0 691.5 414.1C691.7 417.1 692.2 423.5 692.2 427.1C692.1 430.7 691.6 432.1 691.4 435.6C691.3 439.1 691.3 444.4 691.3 448.2C691.3 452.0 691.5 455.4 691.4 458.3C691.3 461.2 691.0 462.9 690.9 465.8C690.7 468.7 690.6 472.6 690.7 475.8C690.8 478.9 691.2 481.8 691.3 484.9C691.4 488.1 691.2 491.5 691.3 494.8C691.4 498.0 691.8 501.3 691.8 504.7C691.9 508.0 691.7 511.4 691.6 514.9C691.6 518.4 691.7 521.4 691.6 525.4C691.5 529.3 691.2 535.0 691.2 538.8C691.2 542.6 691.6 545.3 691.8 548.1C692.0 550.9 692.3 552.7 692.3 555.7C692.2 558.8 691.5 564.5 691.4 566.3C689.6 566.3 683.5 566.4 680.3 566.5C677.1 566.7 675.3 567.1 672.3 567.2C669.4 567.3 666.1 567.3 662.7 567.1C659.2 566.9 655.3 566.1 651.5 566.0C647.7 565.9 643.1 566.4 639.7 566.5C636.4 566.7 635.0 566.9 631.4 567.0C627.8 567.0 622.1 566.9 618.4 566.8C614.7 566.7 612.5 566.1 609.1 566.2C605.8 566.2 601.3 566.9 598.3 567.0C595.3 567.1 593.8 567.0 591.1 566.8C588.5 566.6 585.6 566.1 582.2 565.9C578.9 565.7 574.6 565.6 570.9 565.7C567.1 565.8 563.2 566.5 559.8 566.7C556.4 566.9 553.3 566.9 550.3 566.9C547.3 567.0 545.5 567.1 542.0 567.1C538.4 567.2 532.7 567.5 529.1 567.4C525.4 567.4 523.7 567.0 520.4 566.9C517.0 566.9 512.8 567.1 509.1 567.2C505.4 567.2 501.7 567.2 498.1 567.1C494.6 566.9 490.8 566.4 487.9 566.4C485.0 566.3 483.7 566.8 480.7 566.8C477.7 566.8 473.5 566.3 469.9 566.2C466.4 566.1 463.1 566.3 459.2 566.4C455.3 566.5 450.0 566.7 446.7 566.8C443.5 566.9 442.4 566.7 439.5 566.8C436.7 566.8 433.0 567.3 429.8 567.2C426.7 567.2 424.3 566.7 420.7 566.5C417.0 566.3 412.0 565.9 407.8 565.9C403.6 565.9 399.1 566.5 395.6 566.4C392.2 566.4 389.8 565.8 387.0 565.7C384.3 565.6 382.6 565.8 379.2 565.7C375.8 565.7 370.7 565.2 366.8 565.3C362.9 565.4 359.0 566.0 355.7 566.3C352.3 566.6 349.8 566.9 346.8 566.9C343.8 567.0 340.9 566.9 337.7 566.8C334.4 566.7 328.9 566.4 327.2 566.3C327.2 565.0 327.0 561.7 327.0 558.5C327.0 555.3 327.2 550.7 327.1 547.2C327.0 543.7 326.6 540.8 326.6 537.4C326.6 534.0 326.8 530.0 326.9 526.8C327.0 523.6 327.4 521.2 327.3 518.0C327.3 514.8 326.7 511.1 326.6 507.6C326.5 504.2 326.7 500.4 326.8 497.1C326.9 493.9 327.1 491.7 327.2 488.1C327.2 484.5 327.4 479.1 327.3 475.3C327.2 471.6 326.6 468.4 326.5 465.4C326.4 462.3 326.6 459.7 326.7 456.9C326.7 454.1 326.7 451.6 326.8 448.6C326.9 445.5 327.0 442.4 327.0 438.6C327.1 434.8 327.1 429.5 327.1 425.9C327.0 422.4 326.8 420.1 326.7 417.3C326.7 414.4 326.7 412.6 326.8 408.8C326.8 405.0 327.0 398.2 327.1 394.4C327.2 390.7 327.2 387.7 327.2 386.4Z"/>
<path fill="#47c0cc" d="M326.8 570.5C328.3 570.5 332.6 570.8 335.7 570.8C338.8 570.8 341.8 570.5 345.5 570.6C349.1 570.7 354.2 571.2 357.8 571.3C361.3 571.3 363.0 571.0 366.6 571.0C370.3 570.9 376.1 571.1 379.7 571.1C383.3 571.1 385.3 571.1 388.2 571.0C391.1 570.9 394.1 570.6 397.2 570.6C400.3 570.6 402.9 571.1 406.7 571.1C410.4 571.1 415.9 570.8 419.8 570.6C423.8 570.4 427.4 569.9 430.1 569.8C432.9 569.7 433.5 570.1 436.3 570.2C439.2 570.2 443.2 570.2 447.3 570.1C451.4 570.1 457.6 569.8 460.8 569.8C464.1 569.7 463.9 569.7 467.0 569.7C470.1 569.7 476.4 569.7 479.6 569.7C482.8 569.8 483.1 570.2 486.3 570.2C489.4 570.3 494.6 569.9 498.4 570.0C502.2 570.0 505.5 570.4 509.0 570.5C512.5 570.6 516.0 570.6 519.4 570.7C522.9 570.8 525.9 571.1 529.6 571.1C533.3 571.1 538.6 570.5 541.8 570.5C545.0 570.5 546.0 571.0 548.8 571.1C551.6 571.2 555.1 571.1 558.7 571.1C562.4 571.1 566.9 571.1 570.8 571.1C574.7 571.1 579.4 571.3 582.3 571.3C585.2 571.3 585.4 571.1 588.3 571.0C591.3 571.0 596.6 571.0 600.1 570.8C603.7 570.7 606.0 570.4 609.6 570.3C613.2 570.3 618.4 570.5 621.7 570.5C624.9 570.4 626.2 570.2 629.2 570.1C632.2 570.0 636.2 569.9 639.8 569.8C643.4 569.7 647.7 569.7 650.9 569.6C654.0 569.5 655.7 569.3 658.7 569.4C661.7 569.5 665.6 570.2 669.0 570.3C672.5 570.5 675.5 570.3 679.2 570.3C682.9 570.4 689.3 570.5 691.3 570.5C691.3 572.4 691.4 578.8 691.3 581.8C691.2 584.9 690.7 585.4 690.7 588.8C690.8 592.2 691.6 598.9 691.8 602.3C691.9 605.7 691.5 605.9 691.5 609.2C691.5 612.4 691.5 618.1 691.6 621.8C691.6 625.5 691.8 628.2 691.8 631.4C691.9 634.7 691.9 638.4 691.8 641.4C691.7 644.4 691.3 646.0 691.1 649.4C690.9 652.9 690.7 658.4 690.7 662.0C690.7 665.5 691.1 667.3 691.2 670.6C691.2 673.8 691.1 677.7 691.0 681.2C691.0 684.8 690.7 689.0 690.7 691.8C690.7 694.7 691.1 695.1 691.2 698.3C691.4 701.5 691.5 707.6 691.7 711.0C691.9 714.3 692.4 715.3 692.3 718.5C692.1 721.8 691.1 726.5 691.0 730.5C690.9 734.5 691.7 739.1 691.8 742.4C691.8 745.6 691.4 748.7 691.3 750.0C689.5 750.0 683.7 750.1 680.2 750.1C676.7 750.2 674.0 750.4 670.4 750.2C666.8 750.1 661.6 749.5 658.7 749.3C655.8 749.2 655.8 749.2 653.1 749.4C650.4 749.5 646.2 750.4 642.6 750.4C639.0 750.5 635.7 749.8 631.6 749.8C627.5 749.8 621.3 750.3 617.9 750.5C614.5 750.7 614.2 751.0 611.2 751.0C608.2 751.0 603.4 750.6 600.0 750.5C596.5 750.4 594.3 750.6 590.7 750.5C587.1 750.4 581.7 749.8 578.4 749.7C575.1 749.6 574.1 750.1 570.9 750.0C567.7 750.0 563.0 749.6 559.1 749.6C555.1 749.6 550.6 749.9 547.1 750.0C543.7 750.0 541.7 749.8 538.4 749.9C535.2 750.0 530.7 750.4 527.8 750.5C524.8 750.7 524.3 750.8 520.8 750.9C517.3 750.9 510.5 750.8 506.9 750.8C503.2 750.8 501.8 750.9 499.0 751.0C496.1 751.0 493.1 751.2 489.7 751.2C486.3 751.2 482.0 751.2 478.3 751.1C474.7 751.1 471.0 751.0 467.9 750.9C464.8 750.7 463.0 750.5 459.8 750.4C456.6 750.4 452.2 750.5 449.0 750.6C445.8 750.7 444.3 750.9 440.4 751.0C436.6 751.0 429.5 750.8 426.1 750.7C422.7 750.7 423.1 751.0 420.1 750.8C417.0 750.6 411.4 749.9 407.9 749.6C404.4 749.3 402.6 749.2 399.2 749.2C395.8 749.3 391.5 749.6 387.6 749.8C383.7 749.9 378.9 750.0 375.9 750.1C372.9 750.1 372.8 750.0 369.5 750.0C366.3 749.9 359.9 749.9 356.4 749.8C352.8 749.7 351.7 749.4 348.2 749.2C344.6 749.0 338.6 748.7 335.1 748.8C331.5 749.0 328.2 749.8 326.8 750.0C326.9 748.4 327.4 743.8 327.3 740.3C327.3 736.8 326.7 731.9 326.5 728.9C326.3 726.0 326.3 725.3 326.1 722.4C326.0 719.6 325.7 715.6 325.8 712.0C325.9 708.4 326.6 704.3 326.8 700.8C326.9 697.4 326.9 694.1 326.8 691.1C326.7 688.1 326.5 686.5 326.3 682.6C326.2 678.8 325.7 671.7 325.8 667.9C325.9 664.2 326.6 663.3 326.9 660.1C327.1 656.9 327.1 652.0 327.2 648.8C327.3 645.6 327.4 644.2 327.5 640.8C327.5 637.5 327.7 632.5 327.5 628.7C327.4 624.9 326.7 621.4 326.5 617.9C326.3 614.5 326.5 611.2 326.5 608.1C326.5 605.1 326.4 602.7 326.3 599.4C326.1 596.1 325.9 591.6 325.8 588.4C325.7 585.2 325.7 583.1 325.9 580.1C326.1 577.1 326.7 572.1 326.8 570.5Z"/>
<path fill="#47c0cc" d="M325.6 756.2C327.2 756.2 331.5 755.9 334.9 756.0C338.3 756.1 342.9 756.5 346.1 756.6C349.4 756.7 351.5 756.7 354.6 756.6C357.6 756.5 360.6 756.2 364.4 756.0C368.1 755.9 373.9 755.9 377.0 755.8C380.1 755.8 379.7 755.8 382.9 755.8C386.0 755.7 392.1 755.5 395.9 755.5C399.7 755.6 402.6 756.0 405.8 756.0C409.0 756.0 412.6 755.7 415.4 755.6C418.1 755.5 419.4 755.3 422.4 755.4C425.4 755.4 430.3 755.6 433.5 755.7C436.7 755.8 438.4 756.0 441.7 756.0C445.0 756.0 449.8 755.7 453.5 755.8C457.2 755.9 460.9 756.5 464.0 756.8C467.2 757.0 469.2 757.0 472.3 757.1C475.4 757.1 479.5 756.9 482.7 757.0C485.9 757.0 488.2 757.3 491.6 757.3C494.9 757.4 499.6 757.6 503.0 757.5C506.4 757.3 508.3 756.9 511.9 756.6C515.4 756.4 520.8 755.9 524.1 755.9C527.5 755.8 528.4 756.3 531.9 756.3C535.4 756.4 541.9 756.1 545.1 756.0C548.3 755.9 547.9 756.0 551.2 755.9C554.5 755.8 561.4 755.5 565.0 755.5C568.7 755.5 570.1 755.7 573.2 755.7C576.2 755.7 579.8 755.4 583.1 755.5C586.4 755.6 589.4 756.3 592.8 756.5C596.3 756.7 600.7 756.6 603.9 756.5C607.1 756.5 609.3 756.4 612.0 756.5C614.7 756.5 616.5 756.9 620.0 756.9C623.4 756.9 628.9 756.5 632.7 756.4C636.4 756.3 639.4 756.3 642.4 756.2C645.5 756.1 647.7 755.8 650.9 755.8C654.2 755.7 658.5 756.2 661.9 756.1C665.3 756.1 668.0 755.5 671.3 755.4C674.6 755.4 678.5 755.6 681.8 755.8C685.0 755.9 689.5 756.1 691.0 756.2C691.0 757.9 690.8 763.0 690.8 766.7C690.9 770.4 691.6 775.2 691.5 778.4C691.4 781.6 690.5 782.9 690.4 786.1C690.4 789.3 691.1 793.9 691.0 797.5C691.0 801.0 690.4 804.4 690.2 807.5C690.1 810.5 690.1 813.0 690.1 815.8C690.0 818.6 689.7 821.0 689.8 824.4C689.9 827.9 690.7 832.4 690.9 836.3C691.0 840.2 690.8 844.3 690.7 848.1C690.6 851.8 690.3 855.3 690.3 858.6C690.3 861.9 690.5 864.5 690.7 867.9C690.9 871.3 691.5 875.5 691.6 878.9C691.6 882.3 691.1 885.6 690.9 888.3C690.7 891.0 690.5 892.2 690.5 895.2C690.4 898.2 690.6 902.4 690.7 906.2C690.9 910.1 691.3 915.1 691.4 918.3C691.4 921.5 691.0 922.3 690.9 925.4C690.9 928.4 691.0 934.6 691.0 936.5C689.7 936.5 686.8 936.4 683.2 936.4C679.7 936.4 673.3 936.5 669.8 936.5C666.4 936.4 666.0 936.1 662.6 936.0C659.3 935.9 653.3 935.9 649.7 935.8C646.2 935.8 644.6 935.4 641.4 935.6C638.1 935.7 633.4 936.4 630.3 936.6C627.1 936.9 625.2 937.1 622.5 937.2C619.9 937.3 618.0 937.2 614.3 937.1C610.6 936.9 603.7 936.2 600.3 936.2C597.0 936.2 597.0 936.9 594.1 936.9C591.2 936.9 586.6 936.3 582.9 936.1C579.2 935.9 574.9 935.8 571.9 935.7C568.9 935.6 567.7 935.3 564.7 935.4C561.8 935.4 558.1 935.7 554.2 935.8C550.2 935.9 544.3 935.8 541.0 935.8C537.7 935.8 537.4 935.7 534.5 935.9C531.6 936.1 526.9 936.8 523.5 937.0C520.0 937.2 517.5 937.0 514.0 937.0C510.6 937.0 506.2 937.2 502.7 937.1C499.2 937.0 495.9 936.5 493.0 936.5C490.1 936.5 488.6 937.0 485.2 937.1C481.8 937.1 476.0 936.8 472.8 936.8C469.5 936.8 469.2 937.3 465.7 937.3C462.2 937.2 455.3 936.7 451.8 936.7C448.3 936.6 448.1 937.1 444.8 937.1C441.5 937.0 435.4 936.5 431.8 936.4C428.2 936.4 425.9 936.7 423.2 936.7C420.5 936.7 418.2 936.8 415.4 936.7C412.6 936.7 409.7 936.5 406.4 936.4C403.0 936.3 398.6 936.0 395.1 935.9C391.6 935.9 388.7 936.4 385.3 936.3C381.9 936.3 378.2 935.8 374.9 935.7C371.7 935.6 368.9 935.8 365.9 935.8C362.8 935.9 359.8 936.1 356.5 936.1C353.3 936.0 349.7 935.8 346.4 935.7C343.1 935.6 340.0 935.4 336.5 935.6C333.1 935.7 327.4 936.3 325.6 936.5C325.6 934.7 325.6 929.3 325.5 925.6C325.5 921.9 325.4 917.7 325.4 914.3C325.4 910.9 325.7 908.2 325.7 905.2C325.6 902.3 325.1 899.8 324.9 896.7C324.8 893.6 324.8 890.2 324.9 886.8C325.1 883.5 325.8 879.9 326.0 876.7C326.2 873.5 326.2 871.0 326.1 867.4C326.0 863.9 325.6 858.9 325.4 855.5C325.2 852.1 325.0 850.3 324.9 846.8C324.8 843.3 324.9 837.7 324.9 834.4C324.9 831.0 324.9 830.0 325.0 826.7C325.2 823.4 325.8 818.2 325.9 814.7C326.0 811.2 325.7 808.6 325.8 805.8C325.9 803.1 326.3 801.2 326.3 798.3C326.3 795.4 325.8 791.9 325.7 788.3C325.7 784.7 326.0 780.7 326.0 776.9C326.0 773.0 325.6 768.8 325.5 765.4C325.5 761.9 325.6 757.7 325.6 756.2Z"/>
<path fill="#ffeca4" d="M696.0 202.3C698.0 202.4 705.0 202.9 707.9 203.0C710.8 203.1 710.5 203.0 713.4 202.8C716.4 202.7 721.9 202.5 725.5 202.3C729.2 202.2 731.9 202.0 735.4 202.0C738.9 202.0 742.6 202.2 746.3 202.3C750.0 202.5 754.1 203.1 757.7 203.1C761.3 203.1 764.5 202.6 767.7 202.5C770.9 202.4 773.7 202.5 776.8 202.6C779.9 202.7 783.4 203.2 786.1 203.2C788.7 203.2 789.8 202.8 792.8 202.7C795.9 202.6 800.9 202.6 804.4 202.7C807.8 202.8 810.2 203.3 813.4 203.3C816.5 203.2 820.0 202.7 823.2 202.5C826.4 202.4 829.0 202.4 832.8 202.2C836.5 202.1 842.3 201.6 845.6 201.6C849.0 201.6 849.5 202.1 852.7 202.2C855.9 202.4 861.5 202.5 864.8 202.7C868.2 202.8 869.5 202.9 872.9 203.0C876.3 203.0 882.0 203.1 885.2 203.0C888.4 203.0 889.3 202.6 892.0 202.6C894.7 202.6 897.4 202.9 901.4 203.0C905.4 203.1 912.6 203.3 915.9 203.2C919.2 203.2 918.3 202.6 921.2 202.5C924.2 202.3 931.5 202.3 933.5 202.3C933.5 204.0 933.5 209.5 933.4 212.5C933.4 215.5 933.0 217.2 933.0 220.4C933.0 223.5 933.2 228.0 933.3 231.3C933.3 234.7 933.2 237.3 933.3 240.5C933.4 243.7 933.9 246.8 934.1 250.5C934.2 254.2 934.1 258.6 934.1 262.4C934.1 266.3 934.1 270.5 934.2 273.8C934.2 277.0 934.5 279.1 934.5 282.0C934.5 284.8 934.2 287.5 934.0 291.0C933.9 294.4 933.8 298.8 933.8 302.7C933.8 306.6 934.2 310.6 934.3 314.2C934.4 317.8 934.5 320.7 934.4 324.2C934.3 327.6 934.0 331.8 933.9 334.8C933.7 337.8 933.7 338.7 933.5 342.0C933.3 345.2 932.7 350.9 932.8 354.3C932.8 357.6 933.9 359.3 933.9 362.0C934.0 364.8 933.3 367.3 933.2 370.8C933.1 374.2 933.4 380.5 933.5 382.5C931.7 382.4 925.5 382.2 922.4 382.2C919.4 382.1 918.1 382.2 915.4 382.3C912.7 382.4 909.6 383.1 906.1 383.0C902.7 383.0 898.7 382.2 894.9 382.0C891.1 381.8 886.4 381.7 883.3 381.7C880.2 381.8 879.2 382.1 876.4 382.3C873.5 382.5 869.7 382.8 866.3 382.8C863.0 382.7 859.8 382.0 856.3 382.0C852.7 381.9 849.0 382.3 845.3 382.3C841.5 382.2 837.6 381.8 833.8 381.8C830.0 381.7 825.6 382.1 822.4 382.1C819.3 382.0 817.6 381.6 814.7 381.7C811.9 381.7 808.9 382.2 805.4 382.4C801.9 382.6 797.1 382.8 793.8 382.9C790.5 382.9 788.8 382.8 785.7 382.8C782.6 382.8 778.6 382.9 775.3 382.9C771.9 382.8 768.6 382.9 765.6 382.7C762.7 382.6 760.6 382.1 757.6 382.1C754.6 382.0 751.4 382.2 747.6 382.3C743.9 382.3 738.8 382.4 735.3 382.6C731.9 382.7 730.2 383.1 727.1 383.2C723.9 383.3 719.9 383.1 716.4 383.1C712.9 383.1 709.4 383.3 706.0 383.2C702.6 383.1 697.7 382.6 696.0 382.5C696.0 380.6 696.0 374.2 696.0 371.2C696.0 368.3 696.0 368.5 695.8 364.9C695.7 361.4 695.1 354.0 695.1 350.1C695.2 346.3 696.2 344.8 696.4 342.0C696.5 339.2 696.4 336.3 696.3 333.1C696.2 330.0 695.9 326.6 695.8 323.1C695.8 319.5 696.0 315.2 696.1 311.9C696.1 308.6 696.0 306.6 696.0 303.3C696.1 300.1 696.5 295.4 696.4 292.3C696.3 289.2 695.7 287.7 695.5 284.6C695.4 281.5 695.4 277.6 695.4 273.6C695.4 269.7 695.6 264.7 695.6 260.9C695.7 257.0 695.6 253.5 695.7 250.6C695.8 247.6 695.9 246.1 696.1 243.4C696.3 240.7 696.8 238.2 696.8 234.4C696.8 230.6 696.1 224.2 696.1 220.7C696.1 217.1 696.6 216.3 696.6 213.2C696.5 210.2 696.1 204.1 696.0 202.3Z"/>
<path fill="#ffeca4" d="M938.0 202.3C939.9 202.3 946.4 202.4 949.3 202.5C952.2 202.6 952.9 202.8 955.6 202.8C958.2 202.9 961.7 202.7 965.4 202.7C969.1 202.8 974.0 203.3 977.8 203.2C981.5 203.0 984.5 202.0 988.1 201.9C991.7 201.8 996.2 202.6 999.4 202.5C1002.6 202.5 1004.4 201.7 1007.5 201.6C1010.6 201.5 1014.8 201.7 1018.2 201.9C1021.5 202.1 1024.3 202.9 1027.8 202.9C1031.2 202.9 1035.4 202.0 1038.8 201.9C1042.2 201.7 1044.9 202.0 1048.0 202.0C1051.2 202.0 1054.7 202.0 1057.7 202.0C1060.8 202.0 1063.3 202.1 1066.1 202.1C1068.9 202.0 1070.8 202.0 1074.4 201.9C1077.9 201.8 1084.0 201.3 1087.3 201.4C1090.6 201.5 1090.9 202.3 1094.1 202.4C1097.3 202.6 1103.4 202.6 1106.7 202.4C1110.0 202.3 1110.8 201.7 1113.8 201.8C1116.8 201.8 1121.0 202.5 1124.7 202.8C1128.3 203.0 1132.6 203.2 1135.8 203.2C1139.0 203.2 1140.7 202.6 1143.9 202.6C1147.2 202.5 1152.2 202.9 1155.4 203.0C1158.6 203.1 1160.0 203.3 1163.3 203.2C1166.5 203.1 1173.0 202.4 1175.0 202.3C1175.1 203.9 1175.7 208.9 1175.7 212.2C1175.8 215.5 1175.7 218.5 1175.5 222.0C1175.3 225.5 1174.7 229.8 1174.6 233.2C1174.4 236.6 1174.5 239.2 1174.5 242.3C1174.5 245.4 1174.4 248.8 1174.3 251.8C1174.3 254.8 1174.3 257.2 1174.3 260.4C1174.3 263.5 1174.4 267.3 1174.6 270.7C1174.7 274.1 1174.9 277.6 1175.0 280.9C1175.2 284.2 1175.3 287.1 1175.3 290.7C1175.3 294.4 1175.1 299.3 1175.1 302.9C1175.0 306.4 1174.9 308.3 1174.9 311.9C1174.9 315.4 1175.2 320.6 1175.2 324.1C1175.2 327.6 1175.1 329.4 1175.1 332.9C1175.1 336.3 1175.3 341.4 1175.3 344.9C1175.4 348.3 1175.6 350.7 1175.6 353.5C1175.5 356.2 1174.9 358.0 1174.9 361.3C1174.9 364.5 1175.3 369.3 1175.3 372.9C1175.4 376.4 1175.1 380.9 1175.0 382.5C1173.7 382.4 1170.5 382.1 1167.3 382.0C1164.1 381.9 1159.4 381.9 1155.9 381.9C1152.3 381.9 1149.1 382.1 1145.7 382.1C1142.3 382.0 1138.9 381.5 1135.2 381.5C1131.5 381.6 1126.8 381.9 1123.6 382.1C1120.4 382.3 1119.0 382.6 1115.8 382.8C1112.7 383.0 1107.8 383.3 1104.6 383.3C1101.5 383.2 1099.7 382.5 1097.0 382.3C1094.3 382.1 1091.9 382.1 1088.4 382.1C1084.9 382.1 1079.5 382.1 1075.9 382.2C1072.4 382.4 1070.8 382.9 1067.2 382.9C1063.6 382.9 1058.0 382.3 1054.3 382.3C1050.6 382.3 1048.3 382.9 1045.1 383.0C1042.0 383.2 1038.1 383.2 1035.3 383.2C1032.6 383.1 1031.5 382.8 1028.4 382.8C1025.2 382.8 1020.2 383.2 1016.5 383.2C1012.7 383.2 1009.3 382.9 1005.8 382.7C1002.3 382.5 998.5 381.9 995.3 381.9C992.0 381.9 989.8 382.4 986.4 382.5C983.1 382.5 978.2 382.2 975.3 382.1C972.3 382.0 971.8 381.7 968.7 381.8C965.6 381.8 959.9 382.3 956.6 382.5C953.4 382.8 952.2 383.3 949.1 383.3C946.0 383.3 939.9 382.6 938.0 382.5C937.9 380.8 937.7 375.5 937.6 372.3C937.5 369.1 937.4 366.5 937.4 363.5C937.4 360.5 937.7 357.6 937.7 354.3C937.7 351.0 937.5 347.1 937.5 343.6C937.5 340.1 937.8 337.4 937.8 333.6C937.8 329.7 937.3 324.4 937.4 320.6C937.4 316.7 938.1 313.7 938.3 310.6C938.4 307.5 938.2 305.1 938.2 301.9C938.2 298.6 938.1 294.6 938.1 291.2C938.2 287.8 938.8 285.0 938.7 281.6C938.7 278.2 938.0 273.8 937.9 271.0C937.9 268.2 938.5 267.6 938.7 264.6C938.8 261.6 938.8 256.5 938.8 253.0C938.7 249.6 938.3 247.0 938.3 243.7C938.2 240.3 938.5 236.9 938.5 233.0C938.5 229.1 938.3 223.6 938.2 220.1C938.1 216.6 937.9 214.9 937.9 212.0C937.8 209.0 938.0 203.9 938.0 202.3Z"/>
<path fill="#ffeca4" d="M1179.0 202.3C1180.4 202.4 1184.6 202.8 1187.6 203.0C1190.6 203.2 1193.3 203.5 1196.9 203.3C1200.6 203.2 1205.6 202.4 1209.6 202.1C1213.6 201.8 1217.5 201.7 1220.7 201.6C1224.0 201.4 1225.6 201.4 1229.0 201.4C1232.4 201.4 1237.5 201.6 1241.1 201.6C1244.6 201.6 1247.4 201.3 1250.4 201.3C1253.5 201.2 1256.7 201.0 1259.3 201.1C1261.9 201.2 1262.5 201.7 1266.1 201.9C1269.7 202.1 1276.8 202.3 1280.8 202.4C1284.8 202.6 1287.1 202.9 1290.1 202.8C1293.0 202.7 1295.3 202.1 1298.4 201.9C1301.4 201.6 1305.0 201.6 1308.3 201.6C1311.6 201.6 1315.0 201.8 1318.3 201.7C1321.5 201.7 1324.6 201.6 1328.1 201.6C1331.5 201.6 1335.7 201.9 1339.0 201.8C1342.3 201.8 1344.7 201.4 1347.9 201.4C1351.0 201.4 1354.1 201.9 1357.8 202.0C1361.5 202.1 1367.1 202.3 1370.2 202.3C1373.2 202.3 1373.2 201.9 1375.9 202.0C1378.7 202.0 1382.9 202.3 1386.9 202.5C1390.8 202.7 1396.0 203.0 1399.8 203.1C1403.6 203.3 1406.8 203.5 1409.8 203.4C1412.7 203.2 1416.2 202.5 1417.5 202.3C1417.4 204.3 1416.9 211.2 1416.8 214.1C1416.8 217.0 1417.2 216.8 1417.2 219.9C1417.2 223.0 1417.1 229.0 1417.1 232.8C1417.1 236.6 1417.0 239.3 1417.1 242.9C1417.3 246.5 1418.0 251.3 1418.0 254.5C1418.0 257.8 1417.0 259.9 1417.0 262.5C1417.0 265.0 1417.9 266.4 1417.9 270.0C1417.9 273.7 1416.9 280.9 1416.9 284.2C1417.0 287.6 1417.9 286.7 1418.0 290.0C1418.1 293.3 1417.5 300.3 1417.4 304.1C1417.3 307.8 1417.4 309.2 1417.3 312.5C1417.3 315.8 1416.8 320.8 1416.9 323.7C1417.0 326.6 1417.9 326.6 1417.9 329.9C1417.9 333.3 1417.0 339.9 1416.9 343.9C1416.8 348.0 1417.3 351.2 1417.4 354.1C1417.5 357.1 1417.7 359.0 1417.7 361.7C1417.7 364.3 1417.2 366.6 1417.2 370.1C1417.1 373.5 1417.4 380.4 1417.5 382.5C1416.0 382.5 1412.1 382.3 1408.7 382.4C1405.4 382.4 1401.1 382.7 1397.5 382.7C1393.8 382.8 1389.9 382.8 1386.8 382.7C1383.7 382.5 1382.0 381.9 1379.1 382.0C1376.2 382.0 1372.8 382.7 1369.4 382.8C1366.1 382.9 1362.9 382.7 1359.1 382.7C1355.3 382.7 1349.8 382.9 1346.5 382.8C1343.2 382.8 1342.2 382.5 1339.3 382.4C1336.4 382.3 1332.6 382.5 1329.3 382.4C1325.9 382.3 1322.6 381.8 1319.3 381.9C1316.1 381.9 1313.1 382.5 1309.8 382.6C1306.4 382.8 1303.0 382.9 1299.2 382.8C1295.5 382.8 1290.9 382.4 1287.2 382.4C1283.5 382.3 1279.7 382.4 1276.9 382.4C1274.2 382.3 1273.4 382.0 1270.5 382.0C1267.7 382.1 1263.4 382.8 1259.8 382.7C1256.2 382.7 1252.4 381.9 1249.0 381.8C1245.6 381.8 1243.0 382.4 1239.3 382.4C1235.5 382.4 1230.0 381.6 1226.6 381.7C1223.3 381.7 1222.5 382.6 1219.3 382.7C1216.1 382.8 1210.6 382.3 1207.4 382.1C1204.1 382.0 1202.7 381.8 1199.7 381.9C1196.7 381.9 1193.0 382.5 1189.5 382.6C1186.1 382.7 1180.8 382.5 1179.0 382.5C1179.1 380.8 1179.3 375.3 1179.4 372.0C1179.5 368.7 1179.7 365.5 1179.7 362.6C1179.7 359.7 1179.5 358.2 1179.3 354.9C1179.1 351.6 1178.6 347.1 1178.4 343.1C1178.3 339.0 1178.0 333.6 1178.2 330.4C1178.3 327.2 1179.0 327.3 1179.2 323.9C1179.5 320.5 1179.7 313.6 1179.8 310.1C1179.9 306.7 1180.0 305.9 1180.0 303.2C1180.1 300.5 1180.0 298.0 1179.8 294.2C1179.6 290.4 1179.0 283.5 1178.9 280.2C1178.8 276.8 1179.1 277.5 1179.2 274.2C1179.3 270.9 1179.5 264.5 1179.5 260.5C1179.4 256.4 1179.3 253.0 1179.1 250.1C1179.0 247.2 1178.4 245.8 1178.5 243.0C1178.5 240.2 1179.4 236.6 1179.5 233.5C1179.5 230.4 1178.9 227.9 1178.7 224.5C1178.5 221.1 1178.1 216.8 1178.1 213.1C1178.2 209.4 1178.9 204.1 1179.0 202.3Z"/>
<path fill="#0b4a5f" d="M695.0 386.3C696.5 386.2 701.0 385.8 704.0 385.8C707.0 385.8 709.5 386.0 713.0 386.1C716.5 386.2 721.1 386.3 724.9 386.3C728.8 386.4 732.3 386.5 736.0 386.4C739.6 386.2 743.9 385.8 746.8 385.7C749.7 385.5 750.3 385.2 753.1 385.3C755.9 385.4 759.6 386.1 763.5 386.3C767.4 386.4 773.3 386.3 776.4 386.3C779.6 386.3 779.6 386.1 782.6 386.0C785.6 386.0 790.7 385.7 794.5 385.8C798.3 386.0 802.3 386.7 805.5 386.9C808.8 387.0 810.5 386.8 813.8 386.7C817.1 386.6 822.5 386.4 825.6 386.4C828.7 386.5 828.9 387.2 832.3 387.1C835.7 387.0 842.3 386.1 846.1 385.9C849.9 385.7 852.4 386.0 855.0 386.0C857.5 385.9 858.5 385.5 861.4 385.6C864.2 385.7 868.4 386.4 871.9 386.4C875.3 386.4 878.6 385.5 882.0 385.6C885.3 385.6 888.4 386.3 891.9 386.4C895.5 386.6 899.7 386.7 903.2 386.6C906.8 386.5 910.1 386.1 913.0 385.9C915.9 385.8 917.3 385.8 920.7 385.8C924.0 385.9 930.9 386.2 933.0 386.3C933.1 387.6 933.3 390.6 933.4 394.0C933.4 397.4 933.4 403.2 933.4 406.9C933.3 410.6 933.0 413.1 933.0 416.2C932.9 419.2 933.2 421.7 933.2 425.4C933.2 429.1 933.0 434.8 933.0 438.2C932.9 441.6 932.9 442.9 932.9 445.9C933.0 448.9 933.1 452.4 933.2 456.1C933.3 459.8 933.6 464.6 933.5 468.4C933.4 472.1 932.7 475.2 932.7 478.5C932.7 481.8 933.4 485.2 933.4 488.2C933.3 491.2 932.4 493.5 932.4 496.3C932.4 499.2 933.1 501.7 933.3 505.2C933.4 508.8 933.5 513.8 933.5 517.4C933.6 521.0 933.8 523.2 933.8 526.7C933.8 530.2 933.8 535.6 933.7 538.5C933.6 541.5 933.1 541.5 933.0 544.3C932.9 547.1 932.9 551.9 932.9 555.5C932.9 559.2 933.0 564.5 933.0 566.3C931.3 566.2 926.4 565.6 923.1 565.6C919.8 565.6 916.0 566.1 913.1 566.2C910.2 566.3 908.8 566.3 905.7 566.3C902.6 566.3 898.3 566.2 894.5 566.2C890.7 566.2 885.9 566.3 882.8 566.3C879.6 566.3 878.7 566.3 875.5 566.3C872.4 566.3 867.7 566.0 863.7 566.1C859.6 566.1 854.6 566.4 851.3 566.6C848.1 566.7 847.2 567.0 844.0 567.1C840.9 567.2 836.0 567.2 832.3 567.1C828.7 566.9 825.1 566.4 822.3 566.2C819.4 565.9 818.3 565.6 815.2 565.6C812.2 565.6 807.6 566.1 804.1 566.1C800.5 566.1 797.2 565.5 793.9 565.5C790.6 565.5 787.4 565.9 784.3 566.0C781.2 566.0 778.7 565.6 775.4 565.6C772.1 565.6 767.6 566.1 764.4 566.2C761.2 566.4 759.6 566.8 756.0 566.7C752.4 566.7 746.9 566.2 742.9 566.0C739.0 565.8 735.5 565.6 732.3 565.5C729.1 565.4 726.9 565.5 723.8 565.5C720.7 565.5 717.2 565.3 713.8 565.4C710.4 565.6 706.6 566.3 703.4 566.4C700.3 566.6 696.4 566.3 695.0 566.3C694.9 564.4 694.6 557.8 694.7 554.7C694.8 551.6 695.4 550.3 695.5 547.6C695.6 544.9 695.2 542.1 695.3 538.7C695.3 535.3 695.5 530.9 695.6 527.1C695.7 523.3 695.9 519.6 695.9 515.7C695.9 511.9 695.7 507.0 695.6 504.1C695.6 501.3 695.5 501.1 695.6 498.5C695.6 495.8 696.1 492.3 696.0 488.3C696.0 484.2 695.3 477.8 695.2 474.4C695.1 471.0 695.2 471.1 695.4 467.9C695.5 464.6 696.0 458.7 695.9 455.0C695.9 451.3 695.1 449.0 694.8 445.7C694.5 442.4 694.2 438.7 694.2 435.2C694.3 431.6 694.8 427.8 695.1 424.5C695.3 421.1 695.5 418.0 695.6 414.9C695.8 411.8 696.0 409.2 696.0 406.0C696.0 402.7 695.6 398.9 695.4 395.6C695.3 392.3 695.1 387.9 695.0 386.3Z"/>
<path fill="#0b4a5f" d="M936.4 386.3C938.0 386.3 942.8 386.2 945.7 386.1C948.6 386.0 950.2 385.7 953.8 385.7C957.4 385.6 963.7 385.4 967.5 385.6C971.3 385.7 973.5 386.3 976.7 386.4C979.9 386.5 983.8 386.5 986.8 386.4C989.8 386.3 991.9 386.0 994.8 386.0C997.7 386.0 1000.4 386.2 1004.0 386.4C1007.6 386.6 1013.0 386.9 1016.4 387.0C1019.8 387.2 1021.0 387.4 1024.5 387.3C1028.0 387.2 1033.5 386.6 1037.3 386.4C1041.1 386.3 1044.0 386.5 1047.4 386.5C1050.7 386.6 1054.5 386.9 1057.3 386.8C1060.1 386.8 1061.1 386.3 1064.1 386.2C1067.0 386.1 1071.8 386.1 1074.9 386.2C1077.9 386.3 1079.0 386.8 1082.4 386.8C1085.7 386.9 1090.8 386.6 1094.7 386.5C1098.6 386.4 1102.6 386.0 1105.6 386.0C1108.6 386.0 1109.9 386.3 1112.8 386.3C1115.7 386.3 1119.7 386.2 1122.9 386.0C1126.1 385.9 1128.6 385.5 1131.9 385.5C1135.3 385.4 1139.2 385.8 1143.2 386.0C1147.3 386.1 1152.7 386.3 1156.1 386.4C1159.4 386.4 1160.4 386.2 1163.3 386.2C1166.2 386.2 1171.9 386.3 1173.6 386.3C1173.6 387.7 1173.5 391.3 1173.6 395.0C1173.7 398.7 1174.2 405.1 1174.2 408.6C1174.2 412.1 1173.7 412.8 1173.6 416.0C1173.5 419.1 1173.6 424.1 1173.5 427.6C1173.4 431.1 1172.8 433.6 1172.9 437.0C1172.9 440.5 1173.7 445.1 1173.7 448.3C1173.7 451.6 1172.8 453.5 1172.8 456.5C1172.8 459.5 1173.5 462.9 1173.8 466.4C1174.0 470.0 1174.4 474.6 1174.4 477.6C1174.4 480.6 1174.0 481.6 1173.9 484.6C1173.7 487.5 1173.4 491.3 1173.4 495.2C1173.4 499.0 1173.8 503.7 1173.8 507.4C1173.8 511.2 1173.5 514.3 1173.4 517.6C1173.4 521.0 1173.5 524.3 1173.6 527.3C1173.7 530.4 1174.3 532.8 1174.2 536.0C1174.2 539.1 1173.2 542.5 1173.2 546.2C1173.1 549.9 1174.0 554.9 1174.1 558.2C1174.2 561.6 1173.7 565.0 1173.6 566.3C1172.3 566.4 1169.3 566.6 1165.8 566.7C1162.4 566.7 1156.2 566.6 1152.9 566.6C1149.5 566.5 1149.0 566.6 1145.8 566.5C1142.6 566.4 1137.2 566.1 1133.7 566.0C1130.2 565.9 1128.0 565.9 1124.7 565.9C1121.3 565.9 1116.4 566.0 1113.4 565.9C1110.4 565.9 1109.5 565.7 1106.7 565.8C1103.8 565.9 1100.0 566.5 1096.4 566.8C1092.7 567.0 1088.0 567.3 1084.8 567.3C1081.5 567.3 1080.2 566.9 1076.9 566.9C1073.6 566.9 1069.1 567.3 1065.0 567.2C1061.0 567.1 1056.1 566.3 1052.8 566.1C1049.4 566.0 1048.0 566.2 1045.2 566.1C1042.4 566.0 1039.1 565.4 1036.1 565.4C1033.2 565.5 1030.4 566.2 1027.2 566.2C1024.0 566.3 1020.5 565.7 1016.8 565.7C1013.2 565.7 1009.0 566.2 1005.5 566.2C1002.1 566.2 999.3 565.7 996.2 565.6C993.1 565.5 990.6 565.5 987.0 565.5C983.5 565.6 978.3 565.9 974.9 566.0C971.5 566.2 969.8 566.2 966.7 566.3C963.6 566.4 959.9 566.5 956.4 566.6C952.9 566.6 949.0 566.6 945.7 566.6C942.3 566.5 937.9 566.3 936.4 566.3C936.5 564.8 936.8 560.6 936.8 557.3C936.9 554.0 936.6 550.3 936.6 546.5C936.5 542.7 936.3 537.7 936.4 534.4C936.5 531.1 936.9 530.3 937.0 526.9C937.2 523.5 937.1 517.3 937.1 513.9C937.1 510.6 937.1 509.9 937.0 506.8C936.9 503.7 936.3 498.7 936.3 495.1C936.4 491.5 937.0 488.4 937.1 485.2C937.2 481.9 937.0 478.6 937.0 475.5C937.0 472.4 936.9 469.6 936.9 466.6C936.9 463.6 937.0 461.1 937.1 457.7C937.2 454.3 937.4 449.5 937.5 446.1C937.5 442.7 937.4 440.0 937.2 437.1C937.1 434.2 936.8 432.4 936.6 428.7C936.5 425.0 936.3 418.8 936.1 415.0C936.0 411.1 935.7 408.8 935.8 405.7C936.0 402.7 936.8 400.0 936.9 396.8C937.0 393.6 936.5 388.1 936.4 386.3Z"/>
<path fill="#0b4a5f" d="M1176.7 386.3C1178.1 386.4 1182.2 386.9 1185.1 387.0C1188.1 387.0 1190.5 386.7 1194.4 386.7C1198.2 386.7 1204.5 387.0 1208.1 387.0C1211.7 387.0 1212.7 386.8 1215.9 386.8C1219.1 386.8 1223.8 386.9 1227.4 386.9C1231.0 386.9 1234.6 386.7 1237.5 386.7C1240.4 386.7 1241.8 386.8 1245.0 386.8C1248.1 386.8 1252.5 386.8 1256.4 386.6C1260.4 386.4 1265.0 386.0 1268.5 385.9C1272.0 385.7 1274.3 385.7 1277.4 385.8C1280.5 386.0 1284.2 386.7 1287.0 386.8C1289.9 386.9 1291.6 386.7 1294.7 386.6C1297.9 386.6 1302.7 386.5 1305.9 386.4C1309.1 386.4 1310.4 386.5 1314.1 386.6C1317.7 386.6 1324.2 386.6 1327.6 386.7C1331.0 386.7 1331.6 387.1 1334.5 387.0C1337.4 386.9 1341.5 386.2 1345.1 386.0C1348.7 385.9 1352.5 386.0 1356.0 386.1C1359.4 386.3 1362.2 386.8 1365.5 387.0C1368.8 387.2 1372.5 387.3 1375.6 387.3C1378.8 387.4 1381.6 387.3 1384.5 387.2C1387.4 387.0 1389.4 386.5 1393.0 386.4C1396.6 386.3 1402.4 386.7 1406.0 386.6C1409.7 386.6 1413.5 386.4 1415.0 386.3C1415.0 388.2 1415.1 394.8 1415.2 397.9C1415.2 401.1 1415.2 402.1 1415.3 405.2C1415.4 408.3 1415.9 413.1 1415.9 416.5C1415.9 419.9 1415.2 422.7 1415.2 425.7C1415.1 428.7 1415.5 430.8 1415.4 434.5C1415.3 438.3 1414.5 444.7 1414.5 448.2C1414.5 451.6 1415.1 452.3 1415.3 455.0C1415.5 457.8 1415.8 460.6 1415.8 464.4C1415.7 468.2 1415.1 474.3 1415.0 477.8C1414.8 481.2 1414.9 481.9 1415.0 485.1C1415.1 488.4 1415.8 493.5 1415.8 497.3C1415.7 501.1 1415.0 505.0 1414.8 507.9C1414.6 510.8 1414.5 511.6 1414.6 514.9C1414.6 518.1 1414.9 523.4 1415.1 527.3C1415.2 531.2 1415.4 535.0 1415.5 538.2C1415.6 541.3 1415.6 543.2 1415.5 546.2C1415.4 549.1 1414.8 552.7 1414.7 556.0C1414.6 559.4 1415.0 564.6 1415.0 566.3C1413.3 566.3 1408.4 566.1 1404.7 566.1C1401.0 566.2 1395.7 566.6 1392.7 566.7C1389.7 566.7 1389.2 566.5 1386.6 566.3C1384.0 566.1 1380.4 565.6 1377.0 565.5C1373.6 565.5 1369.7 566.0 1366.1 566.1C1362.6 566.1 1359.6 565.7 1355.8 565.7C1352.0 565.6 1346.5 565.6 1343.4 565.7C1340.3 565.8 1340.3 566.1 1337.2 566.3C1334.1 566.4 1328.5 566.8 1324.6 566.7C1320.7 566.7 1316.7 566.0 1313.8 565.9C1310.9 565.8 1309.9 566.3 1307.1 566.3C1304.4 566.3 1300.4 566.1 1297.2 566.0C1294.0 565.9 1291.3 565.9 1288.2 565.8C1285.0 565.8 1281.9 565.5 1278.2 565.5C1274.4 565.5 1269.2 565.6 1265.8 565.8C1262.5 566.0 1261.3 566.8 1258.1 566.8C1255.0 566.8 1250.7 566.0 1246.9 565.8C1243.2 565.5 1238.8 565.3 1235.8 565.5C1232.7 565.6 1231.3 566.5 1228.5 566.6C1225.7 566.7 1222.2 566.1 1218.8 566.1C1215.4 566.1 1211.9 566.6 1208.1 566.6C1204.2 566.6 1199.2 566.2 1195.7 566.1C1192.3 566.1 1190.7 566.2 1187.5 566.3C1184.3 566.3 1178.5 566.3 1176.7 566.3C1176.7 564.8 1176.8 560.6 1176.8 557.4C1176.8 554.1 1176.6 550.3 1176.5 547.0C1176.4 543.7 1176.4 540.8 1176.3 537.6C1176.2 534.3 1175.7 530.9 1175.7 527.5C1175.8 524.1 1176.4 520.6 1176.4 517.2C1176.5 513.9 1176.0 511.2 1176.0 507.5C1175.9 503.7 1176.3 498.1 1176.3 494.6C1176.4 491.0 1176.1 489.6 1176.2 486.2C1176.3 482.9 1176.8 477.8 1176.9 474.4C1177.0 470.9 1177.0 468.9 1177.0 465.7C1177.0 462.5 1176.9 458.5 1176.9 455.3C1176.8 452.2 1176.6 449.9 1176.6 446.7C1176.6 443.6 1176.6 439.7 1176.6 436.3C1176.6 432.8 1176.6 429.7 1176.7 426.2C1176.8 422.6 1177.4 417.9 1177.3 414.9C1177.3 411.8 1176.5 410.6 1176.2 407.7C1176.0 404.8 1175.7 400.9 1175.7 397.3C1175.8 393.7 1176.5 388.1 1176.7 386.3Z"/>
<path fill="#ffeca4" d="M696.0 570.5C697.9 570.5 704.2 570.8 707.4 570.7C710.5 570.6 711.4 570.1 714.7 570.1C718.1 570.1 723.9 570.7 727.5 570.9C731.1 571.0 733.3 571.0 736.5 571.0C739.7 570.9 743.6 570.7 746.7 570.6C749.8 570.6 751.5 570.5 754.9 570.6C758.3 570.8 763.4 571.2 767.2 571.4C770.9 571.5 774.6 571.6 777.2 571.4C779.9 571.3 779.6 570.7 783.0 570.5C786.3 570.4 793.6 570.6 797.3 570.6C801.0 570.5 801.7 570.3 804.9 570.2C808.1 570.2 812.9 570.5 816.5 570.4C820.2 570.3 823.7 569.9 827.1 569.8C830.5 569.6 834.4 569.4 837.0 569.4C839.6 569.4 839.7 569.8 842.7 569.8C845.7 569.9 851.4 569.4 855.0 569.6C858.7 569.7 861.4 570.5 864.5 570.8C867.7 571.0 870.5 571.0 873.8 571.0C877.1 571.1 881.4 571.0 884.5 570.9C887.6 570.8 888.7 570.6 892.3 570.6C895.9 570.6 902.5 570.8 905.8 570.8C909.1 570.8 909.3 570.7 912.3 570.6C915.3 570.5 920.3 570.3 923.8 570.3C927.4 570.3 931.9 570.5 933.5 570.5C933.5 572.2 933.2 577.9 933.3 580.8C933.3 583.8 933.7 584.6 933.9 588.0C934.0 591.4 934.2 597.8 934.1 601.2C934.0 604.5 933.6 605.2 933.4 608.2C933.1 611.3 932.6 615.8 932.7 619.5C932.8 623.2 933.6 627.0 933.8 630.6C934.0 634.1 934.1 637.4 934.0 640.9C933.9 644.4 933.3 648.3 933.4 651.8C933.4 655.2 934.2 658.8 934.1 661.4C934.1 664.1 933.4 665.0 933.3 667.8C933.3 670.6 933.7 675.0 933.9 678.3C934.0 681.6 934.3 684.1 934.2 687.7C934.1 691.3 933.2 696.3 933.1 699.9C933.0 703.4 933.5 705.5 933.7 709.1C933.9 712.7 934.1 718.0 934.1 721.5C934.1 725.1 933.6 727.1 933.6 730.6C933.6 734.0 934.3 738.8 934.3 742.0C934.3 745.2 933.6 748.5 933.5 749.8C931.8 749.8 926.9 749.9 923.3 750.0C919.7 750.1 915.5 750.2 912.1 750.3C908.7 750.4 905.8 750.7 902.7 750.5C899.7 750.4 896.8 749.5 893.9 749.4C891.0 749.3 889.0 749.9 885.3 750.0C881.7 750.0 875.2 749.6 872.1 749.6C868.9 749.6 869.1 750.1 866.4 750.2C863.6 750.3 859.6 750.4 855.6 750.3C851.7 750.2 846.6 749.9 842.7 749.7C838.8 749.6 835.3 749.5 832.2 749.5C829.0 749.5 827.1 749.8 824.0 749.8C820.9 749.9 816.5 749.8 813.7 749.8C810.8 749.8 810.1 749.8 807.0 749.8C804.0 749.8 798.8 749.6 795.5 749.8C792.2 749.9 791.1 750.4 787.3 750.5C783.5 750.6 776.3 750.3 772.8 750.3C769.2 750.3 769.1 750.7 766.1 750.6C763.1 750.5 758.1 749.7 754.9 749.5C751.7 749.3 750.3 749.7 747.1 749.7C743.8 749.6 739.2 749.3 735.6 749.3C732.0 749.4 728.4 750.0 725.4 750.0C722.3 750.0 720.2 749.7 717.3 749.5C714.4 749.4 711.5 749.1 708.0 749.1C704.4 749.1 698.0 749.7 696.0 749.8C695.9 748.5 695.4 745.5 695.5 742.2C695.6 738.9 696.2 733.8 696.3 730.0C696.5 726.2 696.5 722.9 696.5 719.3C696.6 715.8 696.6 711.5 696.6 708.7C696.6 705.8 696.9 705.0 696.8 702.2C696.7 699.4 696.1 695.1 695.8 691.8C695.5 688.5 695.2 686.3 695.2 682.4C695.1 678.4 695.5 671.6 695.4 668.2C695.4 664.9 695.0 665.5 695.0 662.2C695.1 658.9 695.7 652.5 695.7 648.5C695.7 644.5 695.2 640.9 695.1 638.2C695.1 635.4 695.3 634.9 695.3 632.2C695.3 629.5 695.0 625.2 695.1 621.8C695.1 618.5 695.7 615.1 695.8 611.8C695.9 608.5 695.4 605.6 695.4 602.0C695.3 598.4 695.4 593.6 695.5 590.2C695.6 586.9 695.8 585.5 695.9 582.2C696.0 578.9 696.0 572.5 696.0 570.5Z"/>
<path fill="#ffeca4" d="M938.0 570.5C939.7 570.5 944.6 570.5 947.9 570.3C951.2 570.2 954.2 569.8 957.6 569.7C961.0 569.6 965.0 569.7 968.2 569.6C971.4 569.6 973.2 569.3 976.7 569.3C980.2 569.4 986.0 569.9 989.3 570.1C992.6 570.3 993.4 570.4 996.7 570.4C1000.1 570.4 1006.0 569.8 1009.3 569.9C1012.6 569.9 1013.6 570.4 1016.4 570.5C1019.2 570.7 1022.5 571.0 1026.2 570.9C1030.0 570.7 1035.5 570.1 1038.8 569.9C1042.0 569.8 1042.4 569.8 1045.6 569.9C1048.7 570.0 1054.1 570.5 1057.7 570.7C1061.4 570.9 1064.5 571.3 1067.4 571.3C1070.2 571.3 1071.3 570.7 1074.7 570.7C1078.1 570.6 1084.6 570.9 1087.9 571.0C1091.1 571.1 1090.9 571.4 1094.1 571.5C1097.3 571.6 1103.6 571.6 1107.1 571.5C1110.6 571.5 1111.6 571.2 1115.1 571.1C1118.5 571.1 1124.4 571.4 1127.9 571.4C1131.4 571.5 1132.6 571.5 1135.9 571.5C1139.2 571.6 1144.5 571.5 1147.8 571.5C1151.2 571.5 1153.4 571.8 1156.0 571.7C1158.6 571.6 1160.2 571.1 1163.4 570.9C1166.5 570.7 1173.1 570.6 1175.0 570.5C1175.1 572.2 1175.4 577.2 1175.6 580.8C1175.8 584.3 1175.9 588.4 1176.0 591.8C1176.0 595.2 1175.9 598.1 1175.8 601.0C1175.7 604.0 1175.3 606.5 1175.2 609.5C1175.1 612.4 1175.3 615.0 1175.2 618.8C1175.0 622.5 1174.3 628.7 1174.3 632.0C1174.3 635.4 1174.7 635.9 1174.9 639.0C1175.1 642.2 1175.3 647.3 1175.5 651.2C1175.6 655.0 1175.7 658.7 1175.7 661.9C1175.7 665.1 1175.5 667.8 1175.6 670.4C1175.6 673.0 1176.0 674.7 1176.1 677.6C1176.1 680.4 1176.0 684.0 1175.7 687.6C1175.5 691.1 1174.6 695.0 1174.6 698.9C1174.5 702.7 1175.3 707.0 1175.5 710.6C1175.7 714.3 1175.7 717.8 1175.7 721.0C1175.6 724.2 1175.2 726.3 1174.9 729.8C1174.7 733.2 1174.3 738.3 1174.3 741.6C1174.3 745.0 1174.9 748.4 1175.0 749.8C1173.4 749.8 1168.7 750.0 1165.5 750.1C1162.3 750.2 1159.3 750.2 1155.8 750.2C1152.2 750.2 1147.7 750.0 1144.2 750.1C1140.7 750.1 1137.9 750.6 1134.6 750.5C1131.3 750.4 1127.1 749.5 1124.2 749.4C1121.3 749.2 1120.0 749.2 1117.2 749.4C1114.4 749.6 1111.0 750.2 1107.5 750.4C1104.1 750.6 1100.2 750.6 1096.4 750.6C1092.7 750.5 1088.5 750.3 1085.0 750.0C1081.5 749.8 1078.1 749.1 1075.4 749.2C1072.6 749.2 1071.3 750.0 1068.6 750.2C1065.8 750.3 1062.7 750.1 1058.8 750.0C1054.9 749.9 1048.7 749.8 1045.0 749.6C1041.3 749.5 1039.4 749.1 1036.5 749.1C1033.6 749.2 1030.9 749.9 1027.5 750.1C1024.1 750.4 1019.5 750.6 1016.3 750.7C1013.1 750.8 1011.4 750.9 1008.5 751.0C1005.6 751.0 1002.5 751.0 998.9 751.0C995.4 751.0 990.9 751.1 987.2 750.9C983.6 750.7 980.1 749.9 977.0 749.8C973.9 749.7 971.7 750.4 968.4 750.4C965.0 750.4 960.6 749.8 956.9 749.7C953.2 749.6 949.1 749.7 946.0 749.7C942.8 749.7 939.3 749.8 938.0 749.8C938.1 748.1 938.4 742.9 938.6 739.4C938.8 736.0 939.0 732.1 939.0 729.0C939.1 725.9 939.0 724.3 938.9 721.0C938.8 717.7 938.5 712.4 938.4 709.3C938.2 706.2 938.1 705.4 938.1 702.4C938.1 699.4 938.2 694.9 938.2 691.2C938.2 687.5 938.2 683.2 938.1 680.0C938.0 676.9 937.5 675.7 937.5 672.3C937.5 668.9 937.9 663.7 938.0 659.6C938.2 655.5 938.5 650.8 938.5 647.7C938.5 644.7 938.1 644.2 938.1 641.3C938.2 638.4 938.4 633.6 938.6 630.2C938.7 626.8 939.0 624.1 938.9 620.8C938.9 617.5 938.4 613.8 938.3 610.4C938.1 607.0 938.1 604.2 937.9 600.5C937.7 596.7 937.4 591.2 937.2 587.9C937.1 584.7 936.8 583.9 937.0 581.0C937.1 578.1 937.8 572.2 938.0 570.5Z"/>
<path fill="#ffeca4" d="M1179.0 570.5C1180.8 570.4 1186.8 570.0 1189.8 569.9C1192.8 569.9 1193.9 570.0 1197.1 570.1C1200.3 570.3 1205.7 570.7 1209.3 570.8C1212.8 570.8 1215.3 570.2 1218.4 570.3C1221.5 570.3 1224.8 571.1 1227.9 571.0C1231.0 571.0 1233.3 570.1 1237.1 570.0C1240.8 569.8 1247.1 570.3 1250.3 570.2C1253.6 570.2 1253.2 569.7 1256.5 569.8C1259.8 569.9 1266.9 570.4 1270.2 570.6C1273.4 570.8 1273.3 570.8 1276.0 570.8C1278.8 570.8 1282.9 570.7 1286.7 570.6C1290.4 570.4 1294.6 569.9 1298.5 569.8C1302.4 569.7 1307.2 569.8 1310.1 569.9C1313.0 570.1 1313.4 570.7 1316.1 570.7C1318.7 570.7 1322.1 569.9 1325.8 569.8C1329.5 569.8 1334.5 570.0 1338.4 570.2C1342.4 570.3 1346.6 570.9 1349.6 570.8C1352.5 570.8 1353.0 570.0 1356.0 569.9C1359.1 569.8 1364.5 570.0 1367.9 570.2C1371.3 570.4 1373.4 570.9 1376.3 571.0C1379.3 571.2 1382.7 570.9 1385.8 571.0C1388.9 571.0 1391.1 571.4 1395.1 571.4C1399.0 571.4 1405.7 571.2 1409.3 571.1C1413.0 570.9 1415.7 570.6 1417.0 570.5C1416.9 572.0 1416.7 575.9 1416.6 579.6C1416.5 583.2 1416.4 589.3 1416.4 592.4C1416.4 595.5 1416.6 595.4 1416.7 598.1C1416.8 600.8 1416.9 604.5 1416.8 608.6C1416.7 612.6 1416.4 619.1 1416.3 622.5C1416.3 626.0 1416.4 626.2 1416.6 629.0C1416.8 631.8 1417.3 635.6 1417.4 639.3C1417.4 643.0 1416.8 648.1 1416.7 651.4C1416.7 654.7 1417.0 656.1 1417.0 659.3C1417.0 662.6 1416.6 667.7 1416.6 671.1C1416.7 674.5 1417.3 677.1 1417.4 679.9C1417.6 682.7 1417.8 684.4 1417.7 688.0C1417.7 691.6 1417.4 697.8 1417.3 701.6C1417.3 705.4 1417.3 707.7 1417.4 710.7C1417.4 713.6 1417.7 715.7 1417.7 719.3C1417.6 722.9 1417.3 729.1 1417.1 732.2C1417.0 735.4 1416.8 735.1 1416.7 738.0C1416.7 740.9 1417.0 747.8 1417.0 749.8C1415.3 749.8 1410.1 749.7 1406.6 749.6C1403.1 749.6 1399.4 749.7 1395.8 749.5C1392.3 749.4 1388.4 749.0 1385.4 748.9C1382.4 748.9 1380.7 749.1 1377.8 749.2C1374.9 749.3 1371.3 749.6 1368.0 749.7C1364.8 749.7 1361.5 749.5 1358.2 749.5C1354.9 749.5 1352.0 749.9 1348.3 749.9C1344.6 749.9 1339.5 749.5 1335.9 749.4C1332.4 749.2 1329.8 749.1 1326.9 749.1C1324.0 749.0 1321.4 749.1 1318.4 749.2C1315.4 749.4 1312.2 749.8 1309.2 749.8C1306.1 749.9 1303.8 749.3 1300.0 749.3C1296.1 749.4 1289.5 749.7 1286.0 749.9C1282.5 750.1 1281.4 750.5 1278.8 750.5C1276.1 750.5 1273.8 749.9 1270.0 749.9C1266.3 749.9 1259.8 750.5 1256.4 750.5C1253.0 750.5 1252.4 749.9 1249.6 749.7C1246.9 749.5 1243.2 749.2 1239.9 749.2C1236.5 749.1 1232.6 749.4 1229.3 749.6C1226.0 749.7 1223.5 749.9 1220.1 750.0C1216.8 750.1 1212.9 750.1 1209.1 750.3C1205.4 750.4 1201.2 750.8 1197.7 750.8C1194.2 750.7 1191.3 749.9 1188.2 749.7C1185.1 749.6 1180.5 749.8 1179.0 749.8C1178.9 748.3 1178.7 743.7 1178.5 740.7C1178.4 737.7 1178.1 735.5 1178.1 731.8C1178.1 728.1 1178.6 721.7 1178.8 718.5C1178.9 715.2 1178.8 715.5 1178.8 712.4C1178.8 709.2 1178.6 702.8 1178.6 699.5C1178.6 696.2 1178.5 695.5 1178.7 692.4C1178.9 689.2 1179.4 684.4 1179.6 680.8C1179.8 677.2 1180.0 674.6 1180.0 670.8C1179.9 667.1 1179.6 661.4 1179.5 658.3C1179.5 655.2 1179.8 654.7 1179.7 652.1C1179.7 649.4 1179.6 645.6 1179.4 642.3C1179.2 639.0 1178.7 635.9 1178.5 632.3C1178.3 628.7 1178.2 624.8 1178.2 620.8C1178.3 616.7 1178.6 611.6 1178.8 607.9C1179.0 604.2 1179.5 601.5 1179.6 598.4C1179.8 595.3 1179.5 592.1 1179.5 589.1C1179.5 586.2 1179.8 583.7 1179.7 580.6C1179.6 577.5 1179.1 572.2 1179.0 570.5Z"/>
<path fill="#ffeca4" d="M695.0 755.9C696.8 755.8 702.4 755.4 705.8 755.4C709.1 755.3 711.8 755.4 715.0 755.5C718.2 755.6 721.4 756.0 724.9 756.1C728.3 756.2 732.2 756.0 735.7 756.1C739.2 756.2 743.3 756.6 746.1 756.5C748.9 756.4 749.9 755.8 752.6 755.6C755.3 755.4 758.3 755.3 762.3 755.2C766.3 755.2 773.1 755.2 776.8 755.3C780.4 755.3 781.1 755.6 784.1 755.6C787.1 755.6 791.1 755.4 794.7 755.4C798.3 755.4 802.2 755.3 805.7 755.4C809.2 755.5 813.3 756.0 816.0 756.2C818.6 756.3 819.0 756.0 821.7 756.1C824.4 756.2 828.7 756.6 832.1 756.6C835.5 756.6 838.1 755.9 841.9 755.8C845.8 755.7 851.5 756.0 855.3 756.0C859.1 756.0 861.7 755.9 864.8 755.8C867.9 755.7 870.8 755.5 874.0 755.4C877.1 755.3 880.2 755.3 883.6 755.3C887.1 755.2 891.6 755.0 894.6 755.0C897.7 754.9 898.7 754.9 901.9 755.0C905.1 755.1 910.6 755.4 913.8 755.6C917.0 755.9 917.8 756.5 921.1 756.6C924.4 756.6 931.4 756.0 933.5 755.9C933.5 757.9 933.8 764.6 933.7 767.6C933.6 770.7 933.0 770.8 933.1 774.3C933.1 777.7 933.8 784.5 933.8 788.4C933.8 792.2 933.1 794.0 933.1 797.3C933.1 800.6 933.6 805.4 933.8 808.3C934.0 811.1 934.3 811.4 934.2 814.2C934.1 817.0 933.3 820.8 933.2 824.8C933.0 828.8 933.3 835.0 933.4 838.2C933.5 841.5 933.7 841.5 933.7 844.3C933.7 847.1 933.5 851.1 933.3 854.9C933.2 858.8 933.0 863.9 933.0 867.4C933.0 870.9 933.2 872.9 933.3 876.0C933.4 879.1 933.6 882.8 933.6 886.2C933.6 889.5 933.3 892.6 933.3 896.1C933.3 899.7 933.5 904.0 933.7 907.5C933.8 910.9 934.1 914.0 934.1 916.8C934.2 919.6 934.1 920.9 934.0 924.2C933.9 927.5 933.6 934.4 933.5 936.5C932.0 936.6 927.2 937.2 924.3 937.2C921.3 937.3 919.5 937.1 915.7 937.0C911.9 936.8 904.8 936.2 901.5 936.2C898.2 936.1 898.9 936.5 896.1 936.6C893.2 936.8 887.9 936.9 884.5 936.9C881.1 936.8 879.4 936.5 875.7 936.5C872.0 936.5 865.6 936.6 862.3 936.7C858.9 936.8 858.2 937.3 855.6 937.2C853.0 937.2 849.8 936.6 846.5 936.4C843.1 936.2 839.4 936.0 835.5 936.1C831.5 936.2 826.0 936.8 822.7 937.0C819.5 937.1 819.1 937.1 815.8 937.0C812.5 936.9 806.4 936.4 803.0 936.4C799.6 936.3 798.3 936.5 795.4 936.5C792.4 936.5 788.9 936.5 785.2 936.5C781.4 936.6 776.7 937.0 773.0 936.9C769.4 936.8 766.2 936.2 763.0 936.0C759.9 935.8 757.5 935.4 754.1 935.5C750.7 935.6 746.1 936.3 742.5 936.6C738.9 936.8 735.5 936.9 732.3 937.0C729.1 937.1 726.0 937.3 723.3 937.3C720.6 937.3 719.2 937.1 715.9 937.0C712.5 936.8 706.7 936.5 703.3 936.4C699.8 936.3 696.4 936.5 695.0 936.5C695.1 935.1 695.6 931.6 695.6 928.0C695.7 924.3 695.4 917.8 695.3 914.6C695.2 911.4 694.9 911.5 694.8 908.7C694.7 905.8 694.7 901.5 694.8 897.4C694.8 893.3 695.1 887.9 695.1 884.1C695.0 880.3 694.3 877.5 694.3 874.7C694.3 871.9 695.0 870.5 695.1 867.5C695.1 864.6 694.8 860.2 694.6 857.0C694.4 853.8 694.1 851.8 694.1 848.4C694.1 845.0 694.5 840.2 694.7 836.6C694.8 833.0 695.0 829.9 695.0 826.6C694.9 823.4 694.3 820.7 694.2 817.1C694.1 813.6 694.3 808.7 694.4 805.2C694.4 801.7 694.6 799.1 694.5 796.1C694.5 793.1 694.1 790.3 694.1 787.2C694.0 784.0 694.3 780.2 694.3 777.0C694.2 773.8 693.8 771.4 693.9 767.9C694.0 764.4 694.8 757.9 695.0 755.9Z"/>
<path fill="#ffeca4" d="M938.0 755.9C939.6 755.8 944.2 755.2 947.8 755.1C951.4 755.0 956.4 755.2 959.6 755.3C962.9 755.4 964.8 755.7 967.3 755.7C969.9 755.7 971.6 755.2 975.2 755.2C978.7 755.2 985.1 755.6 988.8 755.7C992.5 755.7 994.0 755.5 997.2 755.5C1000.5 755.6 1004.8 755.6 1008.4 755.7C1011.9 755.9 1015.0 756.2 1018.4 756.4C1021.9 756.5 1025.6 756.5 1028.8 756.5C1032.0 756.4 1034.6 756.2 1037.6 756.1C1040.6 756.0 1043.6 756.0 1046.8 756.1C1050.0 756.2 1053.1 756.6 1056.6 756.5C1060.2 756.4 1064.7 755.6 1068.1 755.5C1071.6 755.4 1074.4 755.7 1077.5 755.9C1080.6 756.1 1083.9 756.5 1086.6 756.5C1089.3 756.6 1090.7 756.1 1093.8 756.2C1096.9 756.2 1101.9 756.7 1105.3 756.7C1108.6 756.8 1111.0 756.4 1114.1 756.4C1117.2 756.3 1120.3 756.5 1123.9 756.5C1127.4 756.5 1132.0 756.5 1135.4 756.6C1138.9 756.6 1141.5 756.9 1144.4 756.8C1147.3 756.7 1149.2 755.9 1152.8 755.9C1156.5 755.8 1162.6 756.5 1166.3 756.5C1170.0 756.5 1173.5 756.0 1175.0 755.9C1175.1 757.8 1175.4 764.3 1175.4 767.3C1175.3 770.3 1174.8 770.6 1174.8 773.9C1174.9 777.2 1175.6 783.1 1175.6 787.2C1175.7 791.2 1175.3 795.5 1175.2 798.2C1175.2 801.0 1175.1 800.9 1175.1 803.7C1175.2 806.6 1175.8 811.2 1175.7 815.3C1175.6 819.3 1174.7 824.9 1174.6 828.1C1174.5 831.2 1174.9 831.4 1174.9 834.3C1174.9 837.1 1174.7 841.7 1174.7 845.1C1174.7 848.4 1175.1 850.8 1175.1 854.3C1175.2 857.7 1175.1 862.2 1175.1 865.8C1175.1 869.4 1175.0 872.2 1174.9 876.0C1174.8 879.8 1174.4 884.8 1174.3 888.5C1174.1 892.3 1174.0 895.7 1174.1 898.4C1174.3 901.2 1174.9 902.1 1175.0 905.0C1175.1 908.0 1174.8 912.6 1174.8 916.2C1174.8 919.9 1175.1 923.6 1175.1 927.0C1175.2 930.4 1175.0 934.9 1175.0 936.5C1172.9 936.6 1165.6 936.7 1162.7 936.8C1159.8 936.9 1160.3 937.3 1157.6 937.3C1155.0 937.2 1150.8 936.5 1146.8 936.5C1142.8 936.5 1137.1 937.1 1133.8 937.2C1130.5 937.4 1130.2 937.4 1126.9 937.2C1123.7 937.1 1117.6 936.2 1114.3 936.2C1111.0 936.2 1110.5 937.0 1107.0 937.0C1103.6 937.0 1097.4 936.1 1093.7 936.0C1090.0 935.9 1088.2 936.3 1085.1 936.3C1081.9 936.3 1078.2 935.9 1075.0 936.0C1071.9 936.0 1069.4 936.6 1066.3 936.6C1063.2 936.7 1059.5 936.4 1056.4 936.3C1053.2 936.2 1050.5 936.3 1047.5 936.2C1044.5 936.1 1041.7 935.5 1038.5 935.6C1035.3 935.7 1032.3 936.5 1028.3 936.5C1024.3 936.6 1018.6 935.9 1014.7 935.8C1010.8 935.6 1008.2 935.7 1005.0 935.6C1001.8 935.6 998.5 935.4 995.5 935.6C992.5 935.8 990.2 936.7 987.0 936.8C983.9 936.9 979.9 936.0 976.4 936.1C972.8 936.1 968.7 937.0 966.0 937.0C963.2 937.1 962.9 936.6 959.9 936.4C956.9 936.2 951.6 935.8 947.9 935.8C944.3 935.8 939.7 936.4 938.0 936.5C938.0 934.4 937.9 927.5 937.9 924.0C938.0 920.5 938.2 918.6 938.2 915.6C938.2 912.5 938.1 908.7 937.9 905.4C937.7 902.1 937.2 899.2 937.3 895.7C937.3 892.1 937.9 887.8 938.0 884.3C938.1 880.8 938.0 877.5 938.0 874.8C937.9 872.0 937.9 871.0 937.9 867.7C937.9 864.5 938.1 858.6 938.0 855.3C937.9 852.1 937.4 851.3 937.2 848.2C937.1 845.1 937.2 840.1 937.2 836.7C937.2 833.2 937.1 830.9 937.2 827.5C937.3 824.1 937.8 820.4 938.0 816.5C938.1 812.6 938.1 807.0 938.3 804.0C938.4 801.0 938.6 801.5 938.7 798.4C938.8 795.3 938.8 789.3 938.7 785.5C938.6 781.6 938.3 778.5 938.1 775.4C937.9 772.3 937.4 770.0 937.3 766.7C937.3 763.5 937.9 757.7 938.0 755.9Z"/>
<path fill="#ffeca4" d="M1179.0 755.9C1180.8 755.8 1186.3 755.1 1189.7 755.2C1193.2 755.2 1196.4 756.1 1199.7 756.2C1203.0 756.4 1206.2 756.1 1209.6 756.2C1213.0 756.3 1216.8 756.6 1220.2 756.8C1223.6 756.9 1227.1 757.3 1230.1 757.1C1233.2 756.9 1235.2 755.8 1238.3 755.7C1241.4 755.5 1245.3 755.9 1249.0 756.0C1252.6 756.1 1257.0 756.3 1260.1 756.1C1263.2 756.0 1264.3 755.3 1267.6 755.2C1270.9 755.2 1276.0 755.7 1279.8 755.8C1283.6 755.9 1287.2 755.9 1290.5 756.0C1293.8 756.1 1296.4 756.4 1299.7 756.4C1303.1 756.4 1307.0 756.2 1310.4 756.1C1313.7 756.0 1317.3 755.9 1319.8 755.8C1322.3 755.7 1322.5 755.5 1325.3 755.6C1328.2 755.7 1333.3 756.5 1336.9 756.5C1340.6 756.6 1343.5 756.0 1347.1 755.8C1350.6 755.6 1355.2 755.3 1358.4 755.2C1361.7 755.2 1363.6 755.3 1366.5 755.4C1369.3 755.5 1372.1 755.7 1375.5 755.8C1378.9 756.0 1383.4 756.2 1386.9 756.4C1390.4 756.5 1393.3 756.9 1396.4 756.9C1399.5 756.9 1402.1 756.5 1405.6 756.4C1409.0 756.2 1415.1 756.0 1417.0 755.9C1417.1 757.4 1417.8 761.5 1417.8 764.7C1417.7 767.9 1416.9 771.8 1416.7 775.3C1416.6 778.7 1416.8 781.8 1416.9 785.4C1417.0 789.0 1417.2 793.2 1417.3 796.8C1417.5 800.4 1417.8 803.8 1417.8 807.0C1417.9 810.3 1417.9 812.6 1417.7 816.2C1417.6 819.9 1417.0 825.1 1416.9 828.8C1416.7 832.5 1416.9 835.0 1416.8 838.4C1416.7 841.8 1416.4 846.6 1416.5 849.4C1416.6 852.3 1417.4 852.2 1417.4 855.5C1417.4 858.8 1416.8 865.0 1416.6 869.2C1416.5 873.4 1416.4 877.7 1416.4 880.6C1416.4 883.5 1416.5 883.6 1416.6 886.6C1416.7 889.6 1416.9 896.5 1417.0 898.5A38 38 0 0 1 1379.0 936.5C1377.2 936.5 1371.4 936.5 1368.4 936.3C1365.3 936.2 1364.1 935.6 1360.8 935.7C1357.6 935.7 1353.0 936.3 1348.9 936.5C1344.9 936.7 1339.6 936.7 1336.6 936.7C1333.6 936.7 1333.9 936.3 1331.2 936.3C1328.4 936.3 1323.7 936.8 1320.2 936.9C1316.7 936.9 1313.4 936.6 1310.0 936.5C1306.6 936.4 1303.7 936.4 1299.9 936.2C1296.1 936.1 1290.8 935.7 1287.0 935.6C1283.2 935.5 1279.8 935.4 1277.1 935.4C1274.3 935.4 1272.9 935.4 1270.2 935.5C1267.6 935.6 1264.2 935.7 1261.1 935.9C1257.9 936.1 1255.2 936.7 1251.1 936.9C1247.1 937.1 1240.6 937.3 1236.8 937.3C1232.9 937.3 1230.5 937.0 1227.9 936.8C1225.4 936.6 1224.3 936.3 1221.5 936.2C1218.7 936.0 1215.2 935.7 1211.2 935.7C1207.2 935.7 1201.1 935.9 1197.4 936.2C1193.8 936.4 1192.3 937.0 1189.3 937.1C1186.2 937.2 1180.7 936.6 1179.0 936.5C1178.9 934.7 1178.2 928.8 1178.3 925.5C1178.3 922.1 1179.3 919.6 1179.3 916.3C1179.4 913.0 1178.6 909.0 1178.5 905.5C1178.5 902.0 1179.0 898.3 1179.1 895.3C1179.3 892.2 1179.5 890.4 1179.5 887.2C1179.5 884.0 1179.2 879.4 1179.1 875.9C1178.9 872.4 1178.6 869.2 1178.7 866.1C1178.7 863.0 1179.3 860.5 1179.5 857.3C1179.6 854.1 1179.8 850.4 1179.6 847.0C1179.5 843.5 1178.8 839.9 1178.8 836.8C1178.8 833.8 1179.4 832.3 1179.6 828.6C1179.9 825.0 1180.2 818.7 1180.1 814.8C1179.9 811.0 1179.1 808.5 1178.8 805.6C1178.5 802.8 1178.2 801.1 1178.2 797.7C1178.2 794.4 1178.8 789.4 1178.8 785.4C1178.9 781.4 1178.7 776.7 1178.6 773.7C1178.5 770.7 1178.3 770.2 1178.4 767.3C1178.4 764.3 1178.9 757.8 1179.0 755.9Z"/>
</svg>

<!-- TEXT -->
<div id="otl" class="t" style="left:746.5px;top:32px;font-size:40px;font-weight:700;color:#f07467;transform:skewX(18deg);-webkit-text-stroke:2px #f07467;">\</div>
<div id="otoku" class="t jp" style="left:768px;top:30.5px;font-size:37px;font-weight:900;color:#f07467;letter-spacing:2px;transform:scaleX(1.09);transform-origin:0 50%;">お得</div>
<div id="otr" class="t" style="left:864.5px;top:32px;font-size:40px;font-weight:700;color:#f07467;transform:skewX(-18deg);-webkit-text-stroke:2px #f07467;">/</div>

<div id="mae" class="t jp" style="left:766px;top:118.8px;font-size:44px;font-weight:900;color:#47c0cc;letter-spacing:9px;transform:scaleY(1.09);transform-origin:50% 50%;">前売</div>
<div id="tou" class="t jp" style="left:1009.4px;top:120px;font-size:42px;font-weight:900;color:#f8e04a;letter-spacing:10px;">当日</div>
<div id="dan" class="t jp navy" style="left:1202px;top:95px;font-size:39px;font-weight:900;letter-spacing:6.6px;transform:scaleX(1.1);transform-origin:0 50%;">団体料金</div>
<div id="dan2" class="t jp navy" style="left:1245.5px;top:148.5px;font-size:19px;font-weight:400;letter-spacing:2.8px;">(15名以上)</div>
<div id="dan3" class="t jp navy" style="left:1233px;top:172px;font-size:19.5px;font-weight:400;letter-spacing:2.9px;">※要事前予約</div>

<div id="otona" class="t jp navy" style="left:79px;top:351.5px;font-size:64px;font-weight:900;letter-spacing:7.3px;">おとな</div>

<div id="day1" class="t jp wht" style="left:344px;top:255.5px;font-size:64px;font-weight:900;"><span class="one">1</span><span class="kata">デーパス</span></div>
<div id="night" class="t jp yel" style="left:358px;top:423.5px;font-size:60px;font-weight:900;letter-spacing:1.5px;">ナイトパス</div>
<div id="night2" class="t jp yel" style="left:390px;top:500px;font-size:30px;font-weight:900;letter-spacing:3.7px;transform:scaleY(0.88);transform-origin:50% 50%;">16時以降利用可</div>

<div id="camp1" class="t jp org" style="left:102px;top:592px;font-size:20px;font-weight:500;letter-spacing:0.25px;">キャンペーン価格</div>
<div id="u22" class="t navy" style="left:105px;top:622.2px;font-size:73px;font-weight:700;letter-spacing:3px;transform:scaleX(1.09);transform-origin:0 50%;">U22</div>
<div id="u22b" class="t jp navy" style="left:102.3px;top:704.2px;font-size:26px;font-weight:900;letter-spacing:0.8px;"><span class="d">18</span>歳<span style="margin:0 3.6px;">～</span><span class="d">22</span>歳</div>
<div id="day3" class="t jp wht" style="left:344px;top:623.8px;font-size:64px;font-weight:900;"><span class="one">1</span><span class="kata">デーパス</span></div>

<div id="camp2" class="t jp org" style="left:102px;top:775px;font-size:20px;font-weight:500;letter-spacing:0.25px;">キャンペーン価格</div>
<div id="kodomo" class="t jp navy" style="left:78.5px;top:808px;font-size:64px;font-weight:900;letter-spacing:8px;">こども</div>
<div id="kodomo2" class="t jp navy" style="left:113.5px;top:891px;font-size:26px;font-weight:700;letter-spacing:3px;">高校生まで</div>
<div id="ouen" class="t jp wht" style="left:335.5px;top:800.3px;font-size:26px;font-weight:700;letter-spacing:0.95px;">「こども応援キャンペーン」</div>
<div id="day4" class="t jp wht" style="left:337.8px;top:834.3px;font-size:64px;font-weight:900;"><span class="one">1</span><span class="kata">デーパス</span></div>

<!-- prices -->
<div id="p11" class="t org" style="left:721px;top:265px;font-size:54.5px;"><span class="num">3<span class="cm">,</span>900</span><span class="yen" style="font-size:34px;">円</span></div>
<div id="p12" class="t gry" style="left:960px;top:264.5px;font-size:54.5px;"><span class="num" style="letter-spacing:0.8px">4<span class="cm">,</span>300</span><span class="yen" style="font-size:34px;">円</span></div>
<div id="p13" class="t gry" style="left:1207px;top:264.5px;font-size:54.5px;"><span class="num" style="letter-spacing:-2.2px">3<span class="cm">,</span>700</span><span class="yen" style="font-size:34px;">円</span></div>

<div id="p21" class="t yel" style="left:720.5px;top:452px;font-size:54.5px;"><span class="num" style="letter-spacing:-0.4px">2<span class="cm">,</span>300</span><span class="yen" style="font-size:34px;">円</span></div>
<div id="p22" class="t lgry" style="left:963px;top:452px;font-size:54.5px;"><span class="num" style="letter-spacing:-0.9px">2<span class="cm">,</span>500</span><span class="yen" style="font-size:34px;">円</span></div>
<div id="p23" class="t" style="left:1287.1px;top:456.6px;font-size:46px;font-weight:700;color:#b0aeae;transform:scaleX(1.455);transform-origin:0 50%;">-</div>

<div id="p31" class="t org" style="left:720.5px;top:640px;font-size:54.5px;"><span class="num" style="letter-spacing:-0.4px">2<span class="cm">,</span>200</span><span class="yen" style="font-size:34px;">円</span></div>
<div id="p32" class="t" style="left:1045.1px;top:642.2px;font-size:46px;font-weight:700;color:#878787;transform:scaleX(1.455);transform-origin:0 50%;">-</div>
<div id="p33" class="t org" style="left:1203.7px;top:640px;font-size:54.5px;"><span class="num" style="letter-spacing:-0.45px">2<span class="cm">,</span>200</span><span class="yen" style="font-size:34px;">円</span></div>

<!-- row 4 price blocks -->
<div id="reg1" class="t jp gry" style="left:744px;top:783px;font-size:12px;font-weight:500;line-height:13px;">通常<br>価格</div>
<div id="rp1" class="t gry" style="left:775px;top:780px;font-size:31.5px;"><span class="num2">1,000</span><span class="yen2">円</span></div>
<div id="tri1" class="c" style="left:796px;top:820.5px;width:0;height:0;border-left:15px solid transparent;border-right:15px solid transparent;border-top:15.5px solid #8a8a8a;"></div>
<div id="k1" class="t big" style="left:735px;top:841px;"><span class="n5">500</span><span class="y5">円</span></div>

<div id="reg2" class="t jp gry" style="left:986.5px;top:783px;font-size:12px;font-weight:500;line-height:13px;">通常<br>価格</div>
<div id="rp2" class="t gry" style="left:1017px;top:780px;font-size:31.5px;"><span class="num2">1,300</span><span class="yen2">円</span></div>
<div id="tri2" class="c" style="left:1038px;top:820.5px;width:0;height:0;border-left:15px solid transparent;border-right:15px solid transparent;border-top:15.5px solid #8a8a8a;"></div>
<div id="k2" class="t big" style="left:974.5px;top:841px;"><span class="n5">500</span><span class="y5">円</span></div>

<div id="reg3" class="t jp gry" style="left:1226.5px;top:783px;font-size:12px;font-weight:500;line-height:13px;">通常<br>価格</div>
<div id="rp3" class="t gry" style="left:1259px;top:780px;font-size:31.5px;"><span class="num2">1,000</span><span class="yen2">円</span></div>
<div id="tri3" class="c" style="left:1278px;top:820.5px;width:0;height:0;border-left:15px solid transparent;border-right:15px solid transparent;border-top:15.5px solid #8a8a8a;"></div>
<div id="k3" class="t big" style="left:1218px;top:841px;"><span class="n5">500</span><span class="y5">円</span></div>

<div id="foot" class="t jp navy" style="left:55px;top:965px;font-size:24px;font-weight:400;letter-spacing:3px;">※表示価格は全て税込みです。</div>

</div>
</body>
</html>
